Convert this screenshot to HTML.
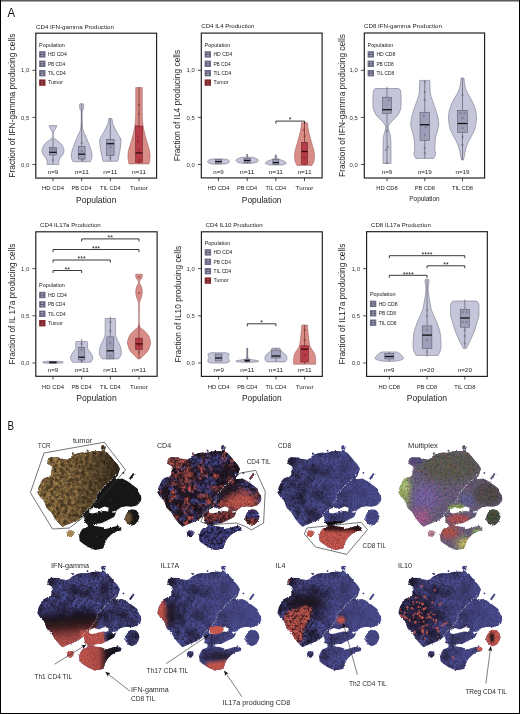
<!DOCTYPE html>
<html><head><meta charset="utf-8"><style>
html,body{margin:0;padding:0;background:#fff;}
body{width:520px;height:714px;overflow:hidden;}
svg{display:block;will-change:transform;}
text{font-family:"Liberation Sans", sans-serif;}
</style></head><body>
<svg width="520" height="714" viewBox="0 0 520 714" font-family='"Liberation Sans", sans-serif'>
<defs>
<path id="ts" d="M47.7,463.0 L47.5,460.5 L50.4,457.3 L59.6,457.6 L60.2,459.0 L61.9,458.8 L64.8,459.2 L67.1,459.8 L69.4,458.6 L72.0,456.0 L77.7,453.3 L82.0,452.5 L87.0,452.7 L90.0,452.1 L94.6,451.0 L98.0,451.0 L101.5,451.5 L102.6,449.0 L104.0,449.0 L104.8,451.6 L107.3,452.7 L110.2,456.1 L114.2,460.8 L117.7,464.8 L120.0,468.8 L118.8,472.3 L117.7,475.8 L115.4,478.0 L116.5,479.2 L122.3,478.6 L128.0,481.5 L132.7,485.0 L137.3,488.4 L139.6,494.2 L141.0,495.4 L141.3,499.6 L140.3,502.1 L136.9,505.5 L131.5,506.8 L126.1,506.2 L120.8,507.5 L116.7,510.2 L115.4,514.2 L114.0,516.9 L110.0,518.9 L106.0,521.0 L101.9,523.0 L97.9,524.3 L94.0,525.0 L101.9,527.0 L106.0,529.0 L112.7,527.0 L118.0,525.7 L121.4,527.7 L120.8,530.4 L115.4,531.7 L111.3,534.4 L107.3,538.5 L104.6,543.8 L103.3,548.5 L95.2,549.9 L88.5,547.2 L83.1,543.8 L79.7,541.1 L79.0,535.8 L80.4,532.0 L82.5,528.8 L85.5,527.8 L88.0,526.2 L87.2,524.2 L85.0,522.5 L84.6,519.5 L84.0,516.0 L81.2,517.5 L78.8,519.8 L71.9,522.7 L66.2,525.0 L62.7,526.7 L59.2,523.8 L54.6,518.1 L51.2,512.3 L46.5,507.7 L44.2,500.8 L40.4,497.3 L37.5,492.7 L38.7,486.9 L41.7,481.0 L42.9,479.2 L45.8,477.5 L48.7,477.2 L51.0,475.2 L51.5,472.9 L51.3,470.9 L52.7,468.8 L52.1,466.5 L49.2,464.5 L46.9,463.7 Z M125.5,516.0 L128.0,511.0 L131.5,509.3 L136.0,510.0 L138.5,513.0 L139.5,517.0 L138.0,521.0 L135.0,524.5 L131.5,525.7 L127.5,523.5 L125.3,520.3 Z M66.7,531.5 L69.0,530.5 L73.3,531.0 L73.5,534.5 L71.0,537.2 L67.5,536.5 Z M101.0,447.5 a2.3,2.3 0 1,0 4.6,0 a2.3,2.3 0 1,0 -4.6,0 Z M86.6,450.6 a0.9,0.9 0 1,0 1.8,0 a0.9,0.9 0 1,0 -1.8,0 Z M72.0,453.6 a1.0,1.0 0 1,0 2.0,0 a1.0,1.0 0 1,0 -2.0,0 Z M122.5,472.9 a0.9,0.9 0 1,0 1.8,0 a0.9,0.9 0 1,0 -1.8,0 Z M129.0,478.6 L133.0,472.9 L134.6,474.1 L130.6,479.8 Z"/>
<clipPath id="tsclip"><use href="#ts"/></clipPath>
<filter id="blur2" x="-20%" y="-20%" width="140%" height="140%"><feGaussianBlur stdDeviation="2.5"/></filter>
<filter id="blur4" x="-30%" y="-30%" width="160%" height="160%"><feGaussianBlur stdDeviation="4"/></filter>
</defs>
<rect width="520" height="714" fill="#fff"/>
<rect x="0" y="0" width="520" height="1" fill="#5a5a5a"/>
<rect x="0" y="1" width="520" height="1" fill="#a8a8a8"/>
<rect x="0" y="0" width="1" height="714" fill="#000"/>
<rect x="519" y="0" width="1" height="714" fill="#000"/>
<rect x="0" y="713" width="520" height="1" fill="#000"/>
<text x="7.40" y="16.80" font-size="12.4" fill="#111" textLength="7.6" lengthAdjust="spacingAndGlyphs">A</text>
<text x="7.60" y="429.70" font-size="12.0" fill="#111" textLength="6.6" lengthAdjust="spacingAndGlyphs">B</text>
<path d="M56.80,125.60 C56.67,126.00 56.43,127.10 56.00,128.00 C55.57,128.90 54.63,130.17 54.20,131.00 C53.77,131.83 53.53,132.08 53.40,133.00 C53.27,133.92 53.22,135.58 53.40,136.50 C53.58,137.42 53.65,137.67 54.50,138.50 C55.35,139.33 57.25,140.42 58.50,141.50 C59.75,142.58 61.08,143.52 62.00,145.00 C62.92,146.48 63.92,148.73 64.00,150.40 C64.08,152.07 63.20,153.65 62.50,155.00 C61.80,156.35 60.40,157.42 59.80,158.50 C59.20,159.58 59.05,160.50 58.90,161.50 C58.75,162.50 58.90,164.00 58.90,164.50 L47.10,164.50 C47.10,164.00 47.25,162.50 47.10,161.50 C46.95,160.50 46.80,159.58 46.20,158.50 C45.60,157.42 44.20,156.35 43.50,155.00 C42.80,153.65 41.92,152.07 42.00,150.40 C42.08,148.73 43.08,146.48 44.00,145.00 C44.92,143.52 46.25,142.58 47.50,141.50 C48.75,140.42 50.65,139.33 51.50,138.50 C52.35,137.67 52.42,137.42 52.60,136.50 C52.78,135.58 52.73,133.92 52.60,133.00 C52.47,132.08 52.23,131.83 51.80,131.00 C51.37,130.17 50.43,128.90 50.00,128.00 C49.57,127.10 49.33,126.00 49.20,125.60 Z" fill="#c6c6da" stroke="#6c6c80" stroke-width="0.55"/>
<line x1="53.00" y1="138.00" x2="53.00" y2="164.00" stroke="#4c4c5c" stroke-width="0.6"/>
<rect x="49.30" y="147.50" width="7.40" height="7.50" fill="#9e9eb8" stroke="#4c4c5c" stroke-width="0.5"/>
<line x1="49.30" y1="152.30" x2="56.70" y2="152.30" stroke="#111" stroke-width="1.3"/>
<circle cx="52.00" cy="149.00" r="0.9" fill="none" stroke="#4c4c5c" stroke-width="0.35"/>
<circle cx="54.50" cy="149.50" r="0.9" fill="none" stroke="#4c4c5c" stroke-width="0.35"/>
<circle cx="53.00" cy="160.00" r="0.9" fill="none" stroke="#4c4c5c" stroke-width="0.35"/>
<path d="M83.27,103.70 C83.35,103.92 83.74,104.12 83.77,105.00 C83.80,105.88 83.72,108.00 83.47,109.00 C83.22,110.00 82.49,109.17 82.27,111.00 C82.05,112.83 82.02,116.90 82.12,120.00 C82.22,123.10 82.28,126.93 82.87,129.60 C83.46,132.27 84.74,133.77 85.67,136.00 C86.60,138.23 87.57,140.67 88.47,143.00 C89.37,145.33 90.47,148.00 91.07,150.00 C91.67,152.00 91.97,153.58 92.07,155.00 C92.17,156.42 91.97,157.38 91.67,158.50 C91.37,159.62 90.50,161.17 90.27,161.70 L73.07,161.70 C72.84,161.17 71.97,159.62 71.67,158.50 C71.37,157.38 71.17,156.42 71.27,155.00 C71.37,153.58 71.67,152.00 72.27,150.00 C72.87,148.00 73.97,145.33 74.87,143.00 C75.77,140.67 76.74,138.23 77.67,136.00 C78.60,133.77 79.88,132.27 80.47,129.60 C81.06,126.93 81.12,123.10 81.22,120.00 C81.32,116.90 81.30,112.83 81.07,111.00 C80.85,109.17 80.12,110.00 79.87,109.00 C79.62,108.00 79.54,105.88 79.57,105.00 C79.60,104.12 79.99,103.92 80.07,103.70 Z" fill="#c6c6da" stroke="#6c6c80" stroke-width="0.55"/>
<line x1="81.67" y1="104.00" x2="81.67" y2="161.00" stroke="#4c4c5c" stroke-width="0.6"/>
<rect x="78.22" y="146.30" width="6.90" height="12.70" fill="#9e9eb8" stroke="#4c4c5c" stroke-width="0.5"/>
<line x1="78.22" y1="154.20" x2="85.12" y2="154.20" stroke="#111" stroke-width="1.3"/>
<circle cx="81.67" cy="143.00" r="0.9" fill="none" stroke="#4c4c5c" stroke-width="0.35"/>
<circle cx="81.67" cy="151.00" r="0.9" fill="none" stroke="#4c4c5c" stroke-width="0.35"/>
<circle cx="82.67" cy="160.00" r="0.9" fill="none" stroke="#4c4c5c" stroke-width="0.35"/>
<path d="M111.84,118.50 C111.92,118.83 112.22,119.75 112.34,120.50 C112.46,121.25 112.21,121.92 112.54,123.00 C112.87,124.08 113.54,125.33 114.34,127.00 C115.14,128.67 116.26,130.95 117.34,133.00 C118.42,135.05 120.27,137.30 120.84,139.30 C121.41,141.30 120.89,143.12 120.74,145.00 C120.59,146.88 120.26,148.77 119.94,150.60 C119.62,152.43 119.19,154.32 118.84,156.00 C118.49,157.68 118.09,159.82 117.84,160.70 C117.59,161.58 117.42,161.20 117.34,161.30 L103.34,161.30 C103.26,161.20 103.09,161.58 102.84,160.70 C102.59,159.82 102.19,157.68 101.84,156.00 C101.49,154.32 101.06,152.43 100.74,150.60 C100.42,148.77 100.09,146.88 99.94,145.00 C99.79,143.12 99.27,141.30 99.84,139.30 C100.41,137.30 102.26,135.05 103.34,133.00 C104.42,130.95 105.54,128.67 106.34,127.00 C107.14,125.33 107.81,124.08 108.14,123.00 C108.47,121.92 108.22,121.25 108.34,120.50 C108.46,119.75 108.76,118.83 108.84,118.50 Z" fill="#c6c6da" stroke="#6c6c80" stroke-width="0.55"/>
<line x1="110.34" y1="118.50" x2="110.34" y2="161.00" stroke="#4c4c5c" stroke-width="0.6"/>
<rect x="106.59" y="139.30" width="7.50" height="16.40" fill="#9e9eb8" stroke="#4c4c5c" stroke-width="0.5"/>
<line x1="106.59" y1="143.70" x2="114.09" y2="143.70" stroke="#111" stroke-width="1.3"/>
<circle cx="110.34" cy="147.00" r="0.9" fill="none" stroke="#4c4c5c" stroke-width="0.35"/>
<circle cx="110.34" cy="158.00" r="0.9" fill="none" stroke="#4c4c5c" stroke-width="0.35"/>
<path d="M142.31,87.60 C142.31,88.83 142.31,91.27 142.31,95.00 C142.31,98.73 142.26,105.57 142.31,110.00 C142.36,114.43 142.33,118.20 142.61,121.60 C142.89,125.00 143.36,127.25 144.01,130.40 C144.66,133.55 145.59,137.13 146.51,140.50 C147.43,143.87 148.93,147.65 149.51,150.60 C150.09,153.55 150.09,155.98 150.01,158.20 C149.93,160.42 149.18,162.95 149.01,163.90 L129.01,163.90 C128.84,162.95 128.09,160.42 128.01,158.20 C127.93,155.98 127.93,153.55 128.51,150.60 C129.09,147.65 130.59,143.87 131.51,140.50 C132.43,137.13 133.36,133.55 134.01,130.40 C134.66,127.25 135.13,125.00 135.41,121.60 C135.69,118.20 135.66,114.43 135.71,110.00 C135.76,105.57 135.71,98.73 135.71,95.00 C135.71,91.27 135.71,88.83 135.71,87.60 Z" fill="#d98d87" stroke="#9a5a5a" stroke-width="0.55"/>
<line x1="139.01" y1="87.00" x2="139.01" y2="163.50" stroke="#5a1a20" stroke-width="0.6"/>
<rect x="135.56" y="126.00" width="6.90" height="36.60" fill="#b83c48" stroke="#5a1a20" stroke-width="0.5"/>
<line x1="135.56" y1="152.90" x2="142.46" y2="152.90" stroke="#3a0a10" stroke-width="1.3"/>
<circle cx="139.01" cy="105.00" r="0.9" fill="none" stroke="#5a1a20" stroke-width="0.35"/>
<circle cx="139.01" cy="114.00" r="0.9" fill="none" stroke="#5a1a20" stroke-width="0.35"/>
<circle cx="138.01" cy="137.00" r="0.9" fill="none" stroke="#5a1a20" stroke-width="0.35"/>
<circle cx="138.01" cy="141.50" r="0.9" fill="none" stroke="#5a1a20" stroke-width="0.35"/>
<circle cx="139.01" cy="150.00" r="0.9" fill="none" stroke="#5a1a20" stroke-width="0.35"/>
<circle cx="139.01" cy="160.00" r="0.9" fill="none" stroke="#5a1a20" stroke-width="0.35"/>
<rect x="35.80" y="33.20" width="120.80" height="144.90" fill="none" stroke="#1a1a1a" stroke-width="1.15"/>
<text x="36.00" y="28.70" font-size="6.1" fill="#222" textLength="77.9" lengthAdjust="spacingAndGlyphs">CD4 IFN-gamma Production</text>
<text transform="translate(15.00,105.65) rotate(-90)" x="0" y="0" font-size="9" fill="#222" text-anchor="middle" textLength="144" lengthAdjust="spacingAndGlyphs">Fraction of IFN-gamma producing cells</text>
<line x1="32.40" y1="70.30" x2="35.80" y2="70.30" stroke="#222" stroke-width="0.8"/>
<text x="29.20" y="72.40" font-size="5.9" fill="#333" text-anchor="end" textLength="8.2" lengthAdjust="spacingAndGlyphs">1,0</text>
<line x1="32.40" y1="117.40" x2="35.80" y2="117.40" stroke="#222" stroke-width="0.8"/>
<text x="29.20" y="119.50" font-size="5.9" fill="#333" text-anchor="end" textLength="8.2" lengthAdjust="spacingAndGlyphs">0,5</text>
<line x1="32.40" y1="164.50" x2="35.80" y2="164.50" stroke="#222" stroke-width="0.8"/>
<text x="29.20" y="166.60" font-size="5.9" fill="#333" text-anchor="end" textLength="8.2" lengthAdjust="spacingAndGlyphs">0,0</text>
<line x1="53.00" y1="178.10" x2="53.00" y2="181.30" stroke="#222" stroke-width="0.8"/>
<text x="53.00" y="190.30" font-size="6.2" fill="#222" text-anchor="middle" textLength="21.9" lengthAdjust="spacingAndGlyphs">HD CD4</text>
<line x1="81.67" y1="178.10" x2="81.67" y2="181.30" stroke="#222" stroke-width="0.8"/>
<text x="81.67" y="190.30" font-size="6.2" fill="#222" text-anchor="middle" textLength="20.1" lengthAdjust="spacingAndGlyphs">PB CD4</text>
<line x1="110.34" y1="178.10" x2="110.34" y2="181.30" stroke="#222" stroke-width="0.8"/>
<text x="110.34" y="190.30" font-size="6.2" fill="#222" text-anchor="middle" textLength="20.7" lengthAdjust="spacingAndGlyphs">TIL CD4</text>
<line x1="139.01" y1="178.10" x2="139.01" y2="181.30" stroke="#222" stroke-width="0.8"/>
<text x="139.01" y="190.30" font-size="6.2" fill="#222" text-anchor="middle" textLength="17.8" lengthAdjust="spacingAndGlyphs">Tumor</text>
<text x="53.00" y="173.70" font-size="6.2" fill="#222" text-anchor="middle" textLength="10.4" lengthAdjust="spacingAndGlyphs">n=9</text>
<text x="81.67" y="173.70" font-size="6.2" fill="#222" text-anchor="middle" textLength="14.2" lengthAdjust="spacingAndGlyphs">n=11</text>
<text x="110.34" y="173.70" font-size="6.2" fill="#222" text-anchor="middle" textLength="14.2" lengthAdjust="spacingAndGlyphs">n=11</text>
<text x="139.01" y="173.70" font-size="6.2" fill="#222" text-anchor="middle" textLength="14.2" lengthAdjust="spacingAndGlyphs">n=11</text>
<text x="96.20" y="202.90" font-size="9.4" fill="#222" text-anchor="middle" textLength="40.4" lengthAdjust="spacingAndGlyphs">Population</text>
<text x="39.10" y="46.80" font-size="5.2" fill="#1a1a1a" textLength="25.7" lengthAdjust="spacingAndGlyphs">Population</text>
<rect x="39.10" y="51.20" width="6.4" height="6.4" fill="#6e6e8e"/>
<rect x="40.70" y="52.40" width="3.2" height="4" fill="#a4a4bc" stroke="#4c4c5c" stroke-width="0.4"/>
<line x1="40.70" y1="54.40" x2="43.90" y2="54.40" stroke="#222" stroke-width="0.6"/>
<text x="47.90" y="56.20" font-size="5.0" fill="#1a1a1a" textLength="18.9" lengthAdjust="spacingAndGlyphs">HD CD4</text>
<rect x="39.10" y="60.60" width="6.4" height="6.4" fill="#6e6e8e"/>
<rect x="40.70" y="61.80" width="3.2" height="4" fill="#a4a4bc" stroke="#4c4c5c" stroke-width="0.4"/>
<line x1="40.70" y1="63.80" x2="43.90" y2="63.80" stroke="#222" stroke-width="0.6"/>
<text x="47.90" y="65.60" font-size="5.0" fill="#1a1a1a" textLength="17.3" lengthAdjust="spacingAndGlyphs">PB CD4</text>
<rect x="39.10" y="70.00" width="6.4" height="6.4" fill="#6e6e8e"/>
<rect x="40.70" y="71.20" width="3.2" height="4" fill="#a4a4bc" stroke="#4c4c5c" stroke-width="0.4"/>
<line x1="40.70" y1="73.20" x2="43.90" y2="73.20" stroke="#222" stroke-width="0.6"/>
<text x="47.90" y="75.00" font-size="5.0" fill="#1a1a1a" textLength="17.8" lengthAdjust="spacingAndGlyphs">TIL CD4</text>
<rect x="39.10" y="79.40" width="6.4" height="6.4" fill="#8a2a32"/>
<rect x="40.70" y="80.60" width="3.2" height="4" fill="#b04850" stroke="#5a1a20" stroke-width="0.4"/>
<line x1="40.70" y1="82.60" x2="43.90" y2="82.60" stroke="#222" stroke-width="0.6"/>
<text x="47.90" y="84.40" font-size="5.0" fill="#1a1a1a" textLength="15.0" lengthAdjust="spacingAndGlyphs">Tumor</text>
<path d="M222.50,158.90 C223.33,159.02 226.33,159.17 227.50,159.60 C228.67,160.03 229.50,160.87 229.50,161.50 C229.50,162.13 228.67,162.95 227.50,163.40 C226.33,163.85 223.33,164.07 222.50,164.20 L214.50,164.20 C213.67,164.07 210.67,163.85 209.50,163.40 C208.33,162.95 207.50,162.13 207.50,161.50 C207.50,160.87 208.33,160.03 209.50,159.60 C210.67,159.17 213.67,159.02 214.50,158.90 Z" fill="#c6c6da" stroke="#6c6c80" stroke-width="0.55"/>
<rect x="215.30" y="159.60" width="6.40" height="3.60" fill="#9e9eb8" stroke="#4c4c5c" stroke-width="0.5"/>
<line x1="215.30" y1="161.60" x2="221.70" y2="161.60" stroke="#111" stroke-width="1.3"/>
<path d="M247.67,154.30 C247.72,154.75 247.05,156.47 247.97,157.00 C248.89,157.53 251.52,157.08 253.17,157.50 C254.82,157.92 257.20,158.75 257.87,159.50 C258.54,160.25 258.29,161.33 257.17,162.00 C256.05,162.67 252.17,163.25 251.17,163.50 L243.17,163.50 C242.17,163.25 238.29,162.67 237.17,162.00 C236.05,161.33 235.80,160.25 236.47,159.50 C237.14,158.75 239.52,157.92 241.17,157.50 C242.82,157.08 245.45,157.53 246.37,157.00 C247.29,156.47 246.62,154.75 246.67,154.30 Z" fill="#c6c6da" stroke="#6c6c80" stroke-width="0.55"/>
<line x1="247.17" y1="154.30" x2="247.17" y2="163.50" stroke="#4c4c5c" stroke-width="0.6"/>
<rect x="243.97" y="158.50" width="6.40" height="4.00" fill="#9e9eb8" stroke="#4c4c5c" stroke-width="0.5"/>
<line x1="243.97" y1="160.50" x2="250.37" y2="160.50" stroke="#111" stroke-width="1.3"/>
<path d="M276.44,155.00 C276.54,155.50 276.47,157.25 277.04,158.00 C277.61,158.75 278.54,158.92 279.84,159.50 C281.14,160.08 283.77,160.83 284.84,161.50 C285.91,162.17 286.74,162.92 286.24,163.50 C285.74,164.08 282.57,164.75 281.84,165.00 L269.84,165.00 C269.11,164.75 265.94,164.08 265.44,163.50 C264.94,162.92 265.77,162.17 266.84,161.50 C267.91,160.83 270.54,160.08 271.84,159.50 C273.14,158.92 274.07,158.75 274.64,158.00 C275.21,157.25 275.14,155.50 275.24,155.00 Z" fill="#c6c6da" stroke="#6c6c80" stroke-width="0.55"/>
<line x1="275.84" y1="155.00" x2="275.84" y2="165.00" stroke="#4c4c5c" stroke-width="0.6"/>
<rect x="272.84" y="159.50" width="6.00" height="4.70" fill="#9e9eb8" stroke="#4c4c5c" stroke-width="0.5"/>
<line x1="272.84" y1="162.60" x2="278.84" y2="162.60" stroke="#111" stroke-width="1.3"/>
<path d="M307.51,122.70 C307.59,123.58 307.68,125.95 308.01,128.00 C308.34,130.05 308.93,132.62 309.51,135.00 C310.09,137.38 310.81,139.80 311.51,142.30 C312.21,144.80 313.21,147.68 313.71,150.00 C314.21,152.32 314.46,154.37 314.51,156.20 C314.56,158.03 314.43,159.47 314.01,161.00 C313.59,162.53 312.34,164.67 312.01,165.40 L297.01,165.40 C296.68,164.67 295.43,162.53 295.01,161.00 C294.59,159.47 294.46,158.03 294.51,156.20 C294.56,154.37 294.81,152.32 295.31,150.00 C295.81,147.68 296.81,144.80 297.51,142.30 C298.21,139.80 298.93,137.38 299.51,135.00 C300.09,132.62 300.68,130.05 301.01,128.00 C301.34,125.95 301.43,123.58 301.51,122.70 Z" fill="#d98d87" stroke="#9a5a5a" stroke-width="0.55"/>
<line x1="304.51" y1="122.70" x2="304.51" y2="165.00" stroke="#5a1a20" stroke-width="0.6"/>
<rect x="301.41" y="142.30" width="6.20" height="21.90" fill="#b83c48" stroke="#5a1a20" stroke-width="0.5"/>
<line x1="301.41" y1="151.50" x2="307.61" y2="151.50" stroke="#3a0a10" stroke-width="1.3"/>
<circle cx="303.51" cy="130.00" r="0.9" fill="none" stroke="#5a1a20" stroke-width="0.35"/>
<circle cx="304.51" cy="136.00" r="0.9" fill="none" stroke="#5a1a20" stroke-width="0.35"/>
<circle cx="304.51" cy="158.00" r="0.9" fill="none" stroke="#5a1a20" stroke-width="0.35"/>
<path d="M275.84,123.60 L275.84,121.10 L304.51,121.10 L304.51,123.60" fill="none" stroke="#151515" stroke-width="0.85"/>
<text x="290.18" y="122.30" font-size="7" fill="#222" text-anchor="middle">*</text>
<rect x="201.30" y="33.10" width="120.80" height="144.80" fill="none" stroke="#1a1a1a" stroke-width="1.15"/>
<text x="201.30" y="28.20" font-size="6.1" fill="#222" textLength="53.0" lengthAdjust="spacingAndGlyphs">CD4 IL4 Production</text>
<text transform="translate(180.30,105.50) rotate(-90)" x="0" y="0" font-size="9" fill="#222" text-anchor="middle" textLength="111.3" lengthAdjust="spacingAndGlyphs">Fraction of IL4 producing cells</text>
<line x1="197.90" y1="70.30" x2="201.30" y2="70.30" stroke="#222" stroke-width="0.8"/>
<text x="194.70" y="72.40" font-size="5.9" fill="#333" text-anchor="end" textLength="8.2" lengthAdjust="spacingAndGlyphs">1,0</text>
<line x1="197.90" y1="117.40" x2="201.30" y2="117.40" stroke="#222" stroke-width="0.8"/>
<text x="194.70" y="119.50" font-size="5.9" fill="#333" text-anchor="end" textLength="8.2" lengthAdjust="spacingAndGlyphs">0,5</text>
<line x1="197.90" y1="164.50" x2="201.30" y2="164.50" stroke="#222" stroke-width="0.8"/>
<text x="194.70" y="166.60" font-size="5.9" fill="#333" text-anchor="end" textLength="8.2" lengthAdjust="spacingAndGlyphs">0,0</text>
<line x1="218.50" y1="177.90" x2="218.50" y2="181.10" stroke="#222" stroke-width="0.8"/>
<text x="218.50" y="190.10" font-size="6.2" fill="#222" text-anchor="middle" textLength="21.9" lengthAdjust="spacingAndGlyphs">HD CD4</text>
<line x1="247.17" y1="177.90" x2="247.17" y2="181.10" stroke="#222" stroke-width="0.8"/>
<text x="247.17" y="190.10" font-size="6.2" fill="#222" text-anchor="middle" textLength="20.1" lengthAdjust="spacingAndGlyphs">PB CD4</text>
<line x1="275.84" y1="177.90" x2="275.84" y2="181.10" stroke="#222" stroke-width="0.8"/>
<text x="275.84" y="190.10" font-size="6.2" fill="#222" text-anchor="middle" textLength="20.7" lengthAdjust="spacingAndGlyphs">TIL CD4</text>
<line x1="304.51" y1="177.90" x2="304.51" y2="181.10" stroke="#222" stroke-width="0.8"/>
<text x="304.51" y="190.10" font-size="6.2" fill="#222" text-anchor="middle" textLength="17.8" lengthAdjust="spacingAndGlyphs">Tumor</text>
<text x="218.50" y="173.50" font-size="6.2" fill="#222" text-anchor="middle" textLength="10.4" lengthAdjust="spacingAndGlyphs">n=9</text>
<text x="247.17" y="173.50" font-size="6.2" fill="#222" text-anchor="middle" textLength="14.2" lengthAdjust="spacingAndGlyphs">n=11</text>
<text x="275.84" y="173.50" font-size="6.2" fill="#222" text-anchor="middle" textLength="14.2" lengthAdjust="spacingAndGlyphs">n=11</text>
<text x="304.51" y="173.50" font-size="6.2" fill="#222" text-anchor="middle" textLength="14.2" lengthAdjust="spacingAndGlyphs">n=11</text>
<text x="261.70" y="202.70" font-size="9.4" fill="#222" text-anchor="middle" textLength="39.7" lengthAdjust="spacingAndGlyphs">Population</text>
<text x="204.60" y="46.80" font-size="5.2" fill="#1a1a1a" textLength="25.7" lengthAdjust="spacingAndGlyphs">Population</text>
<rect x="204.60" y="51.20" width="6.4" height="6.4" fill="#6e6e8e"/>
<rect x="206.20" y="52.40" width="3.2" height="4" fill="#a4a4bc" stroke="#4c4c5c" stroke-width="0.4"/>
<line x1="206.20" y1="54.40" x2="209.40" y2="54.40" stroke="#222" stroke-width="0.6"/>
<text x="213.40" y="56.20" font-size="5.0" fill="#1a1a1a" textLength="18.9" lengthAdjust="spacingAndGlyphs">HD CD4</text>
<rect x="204.60" y="60.60" width="6.4" height="6.4" fill="#6e6e8e"/>
<rect x="206.20" y="61.80" width="3.2" height="4" fill="#a4a4bc" stroke="#4c4c5c" stroke-width="0.4"/>
<line x1="206.20" y1="63.80" x2="209.40" y2="63.80" stroke="#222" stroke-width="0.6"/>
<text x="213.40" y="65.60" font-size="5.0" fill="#1a1a1a" textLength="17.3" lengthAdjust="spacingAndGlyphs">PB CD4</text>
<rect x="204.60" y="70.00" width="6.4" height="6.4" fill="#6e6e8e"/>
<rect x="206.20" y="71.20" width="3.2" height="4" fill="#a4a4bc" stroke="#4c4c5c" stroke-width="0.4"/>
<line x1="206.20" y1="73.20" x2="209.40" y2="73.20" stroke="#222" stroke-width="0.6"/>
<text x="213.40" y="75.00" font-size="5.0" fill="#1a1a1a" textLength="17.8" lengthAdjust="spacingAndGlyphs">TIL CD4</text>
<rect x="204.60" y="79.40" width="6.4" height="6.4" fill="#8a2a32"/>
<rect x="206.20" y="80.60" width="3.2" height="4" fill="#b04850" stroke="#5a1a20" stroke-width="0.4"/>
<line x1="206.20" y1="82.60" x2="209.40" y2="82.60" stroke="#222" stroke-width="0.6"/>
<text x="213.40" y="84.40" font-size="5.0" fill="#1a1a1a" textLength="15.0" lengthAdjust="spacingAndGlyphs">Tumor</text>
<path d="M398.50,88.50 C398.78,88.75 399.78,88.85 400.20,90.00 C400.62,91.15 400.87,92.58 401.00,95.40 C401.13,98.22 401.25,104.13 401.00,106.90 C400.75,109.67 400.17,110.45 399.50,112.00 C398.83,113.55 398.25,114.70 397.00,116.20 C395.75,117.70 393.33,119.53 392.00,121.00 C390.67,122.47 389.62,123.88 389.00,125.00 C388.38,126.12 388.30,126.70 388.30,127.70 C388.30,128.70 388.63,129.47 389.00,131.00 C389.37,132.53 390.17,133.98 390.50,136.90 C390.83,139.82 390.92,144.07 391.00,148.50 C391.08,152.93 391.00,161.00 391.00,163.50 L383.00,163.50 C383.00,161.00 382.92,152.93 383.00,148.50 C383.08,144.07 383.17,139.82 383.50,136.90 C383.83,133.98 384.63,132.53 385.00,131.00 C385.37,129.47 385.70,128.70 385.70,127.70 C385.70,126.70 385.62,126.12 385.00,125.00 C384.38,123.88 383.33,122.47 382.00,121.00 C380.67,119.53 378.25,117.70 377.00,116.20 C375.75,114.70 375.17,113.55 374.50,112.00 C373.83,110.45 373.25,109.67 373.00,106.90 C372.75,104.13 372.87,98.22 373.00,95.40 C373.13,92.58 373.38,91.15 373.80,90.00 C374.22,88.85 375.22,88.75 375.50,88.50 Z" fill="#c6c6da" stroke="#6c6c80" stroke-width="0.55"/>
<line x1="387.00" y1="86.60" x2="387.00" y2="163.50" stroke="#4c4c5c" stroke-width="0.6"/>
<rect x="382.40" y="97.20" width="9.20" height="16.20" fill="#9e9eb8" stroke="#4c4c5c" stroke-width="0.5"/>
<line x1="382.40" y1="109.70" x2="391.60" y2="109.70" stroke="#111" stroke-width="1.3"/>
<circle cx="389.00" cy="100.00" r="0.9" fill="none" stroke="#4c4c5c" stroke-width="0.35"/>
<circle cx="387.00" cy="131.00" r="0.9" fill="none" stroke="#4c4c5c" stroke-width="0.35"/>
<circle cx="388.00" cy="147.00" r="0.9" fill="none" stroke="#4c4c5c" stroke-width="0.35"/>
<circle cx="386.00" cy="150.00" r="0.9" fill="none" stroke="#4c4c5c" stroke-width="0.35"/>
<circle cx="387.00" cy="163.00" r="0.9" fill="none" stroke="#4c4c5c" stroke-width="0.35"/>
<path d="M429.75,80.40 C429.80,81.33 429.97,83.90 430.05,86.00 C430.13,88.10 429.88,90.67 430.25,93.00 C430.62,95.33 431.50,97.68 432.25,100.00 C433.00,102.32 433.92,104.40 434.75,106.90 C435.58,109.40 436.58,112.30 437.25,115.00 C437.92,117.70 438.67,120.60 438.75,123.10 C438.83,125.60 438.25,127.70 437.75,130.00 C437.25,132.30 436.25,133.82 435.75,136.90 C435.25,139.98 434.78,145.65 434.75,148.50 C434.72,151.35 435.72,152.35 435.55,154.00 C435.38,155.65 434.05,157.67 433.75,158.40 L415.75,158.40 C415.45,157.67 414.12,155.65 413.95,154.00 C413.78,152.35 414.78,151.35 414.75,148.50 C414.72,145.65 414.25,139.98 413.75,136.90 C413.25,133.82 412.25,132.30 411.75,130.00 C411.25,127.70 410.67,125.60 410.75,123.10 C410.83,120.60 411.58,117.70 412.25,115.00 C412.92,112.30 413.92,109.40 414.75,106.90 C415.58,104.40 416.50,102.32 417.25,100.00 C418.00,97.68 418.88,95.33 419.25,93.00 C419.62,90.67 419.37,88.10 419.45,86.00 C419.53,83.90 419.70,81.33 419.75,80.40 Z" fill="#c6c6da" stroke="#6c6c80" stroke-width="0.55"/>
<line x1="424.75" y1="80.40" x2="424.75" y2="158.40" stroke="#4c4c5c" stroke-width="0.6"/>
<rect x="420.00" y="112.20" width="9.50" height="28.20" fill="#9e9eb8" stroke="#4c4c5c" stroke-width="0.5"/>
<line x1="420.00" y1="124.70" x2="429.50" y2="124.70" stroke="#111" stroke-width="1.3"/>
<circle cx="424.75" cy="82.00" r="0.9" fill="none" stroke="#4c4c5c" stroke-width="0.35"/>
<circle cx="424.75" cy="92.00" r="0.9" fill="none" stroke="#4c4c5c" stroke-width="0.35"/>
<circle cx="424.75" cy="100.00" r="0.9" fill="none" stroke="#4c4c5c" stroke-width="0.35"/>
<circle cx="423.75" cy="116.00" r="0.9" fill="none" stroke="#4c4c5c" stroke-width="0.35"/>
<circle cx="425.75" cy="127.00" r="0.9" fill="none" stroke="#4c4c5c" stroke-width="0.35"/>
<circle cx="424.75" cy="135.00" r="0.9" fill="none" stroke="#4c4c5c" stroke-width="0.35"/>
<circle cx="424.75" cy="148.00" r="0.9" fill="none" stroke="#4c4c5c" stroke-width="0.35"/>
<circle cx="424.75" cy="153.00" r="0.9" fill="none" stroke="#4c4c5c" stroke-width="0.35"/>
<path d="M464.00,78.10 C464.08,78.92 464.25,81.27 464.50,83.00 C464.75,84.73 464.92,86.67 465.50,88.50 C466.08,90.33 467.00,92.08 468.00,94.00 C469.00,95.92 470.33,97.67 471.50,100.00 C472.67,102.33 474.17,105.30 475.00,108.00 C475.83,110.70 476.33,113.70 476.50,116.20 C476.67,118.70 476.33,120.70 476.00,123.00 C475.67,125.30 475.33,127.67 474.50,130.00 C473.67,132.33 472.17,134.68 471.00,137.00 C469.83,139.32 468.42,141.73 467.50,143.90 C466.58,146.07 466.00,148.08 465.50,150.00 C465.00,151.92 464.83,153.73 464.50,155.40 C464.17,157.07 463.67,159.23 463.50,160.00 L461.50,160.00 C461.33,159.23 460.83,157.07 460.50,155.40 C460.17,153.73 460.00,151.92 459.50,150.00 C459.00,148.08 458.42,146.07 457.50,143.90 C456.58,141.73 455.17,139.32 454.00,137.00 C452.83,134.68 451.33,132.33 450.50,130.00 C449.67,127.67 449.33,125.30 449.00,123.00 C448.67,120.70 448.33,118.70 448.50,116.20 C448.67,113.70 449.17,110.70 450.00,108.00 C450.83,105.30 452.33,102.33 453.50,100.00 C454.67,97.67 456.00,95.92 457.00,94.00 C458.00,92.08 458.92,90.33 459.50,88.50 C460.08,86.67 460.25,84.73 460.50,83.00 C460.75,81.27 460.92,78.92 461.00,78.10 Z" fill="#c6c6da" stroke="#6c6c80" stroke-width="0.55"/>
<line x1="462.50" y1="78.10" x2="462.50" y2="160.00" stroke="#4c4c5c" stroke-width="0.6"/>
<rect x="457.55" y="110.40" width="9.90" height="21.90" fill="#9e9eb8" stroke="#4c4c5c" stroke-width="0.5"/>
<line x1="457.55" y1="123.50" x2="467.45" y2="123.50" stroke="#111" stroke-width="1.3"/>
<circle cx="462.50" cy="95.00" r="0.9" fill="none" stroke="#4c4c5c" stroke-width="0.35"/>
<circle cx="460.50" cy="113.00" r="0.9" fill="none" stroke="#4c4c5c" stroke-width="0.35"/>
<circle cx="464.50" cy="113.00" r="0.9" fill="none" stroke="#4c4c5c" stroke-width="0.35"/>
<circle cx="462.50" cy="118.00" r="0.9" fill="none" stroke="#4c4c5c" stroke-width="0.35"/>
<circle cx="462.50" cy="128.00" r="0.9" fill="none" stroke="#4c4c5c" stroke-width="0.35"/>
<circle cx="462.50" cy="137.00" r="0.9" fill="none" stroke="#4c4c5c" stroke-width="0.35"/>
<circle cx="462.50" cy="145.00" r="0.9" fill="none" stroke="#4c4c5c" stroke-width="0.35"/>
<rect x="364.30" y="33.00" width="120.30" height="145.00" fill="none" stroke="#1a1a1a" stroke-width="1.15"/>
<text x="364.00" y="28.40" font-size="6.1" fill="#222" textLength="77.9" lengthAdjust="spacingAndGlyphs">CD8 IFN-gamma Production</text>
<text transform="translate(344.70,105.50) rotate(-90)" x="0" y="0" font-size="9" fill="#222" text-anchor="middle" textLength="142.8" lengthAdjust="spacingAndGlyphs">Fraction of IFN-gamma producing cells</text>
<line x1="360.90" y1="70.30" x2="364.30" y2="70.30" stroke="#222" stroke-width="0.8"/>
<text x="357.70" y="72.40" font-size="5.9" fill="#333" text-anchor="end" textLength="8.2" lengthAdjust="spacingAndGlyphs">1,0</text>
<line x1="360.90" y1="117.40" x2="364.30" y2="117.40" stroke="#222" stroke-width="0.8"/>
<text x="357.70" y="119.50" font-size="5.9" fill="#333" text-anchor="end" textLength="8.2" lengthAdjust="spacingAndGlyphs">0,5</text>
<line x1="360.90" y1="164.50" x2="364.30" y2="164.50" stroke="#222" stroke-width="0.8"/>
<text x="357.70" y="166.60" font-size="5.9" fill="#333" text-anchor="end" textLength="8.2" lengthAdjust="spacingAndGlyphs">0,0</text>
<line x1="387.00" y1="178.00" x2="387.00" y2="181.20" stroke="#222" stroke-width="0.8"/>
<text x="387.00" y="190.20" font-size="6.2" fill="#222" text-anchor="middle" textLength="21.6" lengthAdjust="spacingAndGlyphs">HD CD8</text>
<line x1="424.75" y1="178.00" x2="424.75" y2="181.20" stroke="#222" stroke-width="0.8"/>
<text x="424.75" y="190.20" font-size="6.2" fill="#222" text-anchor="middle" textLength="20.1" lengthAdjust="spacingAndGlyphs">PB CD8</text>
<line x1="462.50" y1="178.00" x2="462.50" y2="181.20" stroke="#222" stroke-width="0.8"/>
<text x="462.50" y="190.20" font-size="6.2" fill="#222" text-anchor="middle" textLength="21.1" lengthAdjust="spacingAndGlyphs">TIL CD8</text>
<text x="387.00" y="173.60" font-size="6.2" fill="#222" text-anchor="middle" textLength="10.4" lengthAdjust="spacingAndGlyphs">n=9</text>
<text x="424.75" y="173.60" font-size="6.2" fill="#222" text-anchor="middle" textLength="14.2" lengthAdjust="spacingAndGlyphs">n=19</text>
<text x="462.50" y="173.60" font-size="6.2" fill="#222" text-anchor="middle" textLength="14.2" lengthAdjust="spacingAndGlyphs">n=19</text>
<text x="424.45" y="200.80" font-size="6.8" fill="#222" text-anchor="middle" textLength="30.3" lengthAdjust="spacingAndGlyphs">Population</text>
<text x="367.60" y="46.80" font-size="5.2" fill="#1a1a1a" textLength="25.7" lengthAdjust="spacingAndGlyphs">Population</text>
<rect x="367.60" y="51.20" width="6.4" height="6.4" fill="#6e6e8e"/>
<rect x="369.20" y="52.40" width="3.2" height="4" fill="#a4a4bc" stroke="#4c4c5c" stroke-width="0.4"/>
<line x1="369.20" y1="54.40" x2="372.40" y2="54.40" stroke="#222" stroke-width="0.6"/>
<text x="376.40" y="56.20" font-size="5.0" fill="#1a1a1a" textLength="18.9" lengthAdjust="spacingAndGlyphs">HD CD8</text>
<rect x="367.60" y="60.60" width="6.4" height="6.4" fill="#6e6e8e"/>
<rect x="369.20" y="61.80" width="3.2" height="4" fill="#a4a4bc" stroke="#4c4c5c" stroke-width="0.4"/>
<line x1="369.20" y1="63.80" x2="372.40" y2="63.80" stroke="#222" stroke-width="0.6"/>
<text x="376.40" y="65.60" font-size="5.0" fill="#1a1a1a" textLength="17.3" lengthAdjust="spacingAndGlyphs">PB CD8</text>
<rect x="367.60" y="70.00" width="6.4" height="6.4" fill="#6e6e8e"/>
<rect x="369.20" y="71.20" width="3.2" height="4" fill="#a4a4bc" stroke="#4c4c5c" stroke-width="0.4"/>
<line x1="369.20" y1="73.20" x2="372.40" y2="73.20" stroke="#222" stroke-width="0.6"/>
<text x="376.40" y="75.00" font-size="5.0" fill="#1a1a1a" textLength="17.8" lengthAdjust="spacingAndGlyphs">TIL CD8</text>
<path d="M57.00,361.30 C57.83,361.35 60.93,361.43 62.00,361.60 C63.07,361.77 63.40,362.07 63.40,362.30 C63.40,362.53 63.07,362.83 62.00,363.00 C60.93,363.17 57.83,363.25 57.00,363.30 L49.00,363.30 C48.17,363.25 45.07,363.17 44.00,363.00 C42.93,362.83 42.60,362.53 42.60,362.30 C42.60,362.07 42.93,361.77 44.00,361.60 C45.07,361.43 48.17,361.35 49.00,361.30 Z" fill="#c6c6da" stroke="#6c6c80" stroke-width="0.55"/>
<rect x="49.50" y="361.40" width="7.00" height="1.80" fill="#9e9eb8" stroke="#4c4c5c" stroke-width="0.5"/>
<line x1="49.50" y1="362.30" x2="56.50" y2="362.30" stroke="#111" stroke-width="1.3"/>
<path d="M87.17,341.50 C87.25,341.75 87.59,341.83 87.67,343.00 C87.75,344.17 87.25,347.00 87.67,348.50 C88.09,350.00 89.34,350.67 90.17,352.00 C91.00,353.33 92.29,355.25 92.67,356.50 C93.05,357.75 92.80,358.53 92.47,359.50 C92.14,360.47 90.97,361.83 90.67,362.30 L72.67,362.30 C72.37,361.83 71.20,360.47 70.87,359.50 C70.54,358.53 70.29,357.75 70.67,356.50 C71.05,355.25 72.34,353.33 73.17,352.00 C74.00,350.67 75.25,350.00 75.67,348.50 C76.09,347.00 75.59,344.17 75.67,343.00 C75.75,341.83 76.09,341.75 76.17,341.50 Z" fill="#c6c6da" stroke="#6c6c80" stroke-width="0.55"/>
<line x1="81.67" y1="339.00" x2="81.67" y2="362.30" stroke="#4c4c5c" stroke-width="0.6"/>
<rect x="78.52" y="347.30" width="6.30" height="12.70" fill="#9e9eb8" stroke="#4c4c5c" stroke-width="0.5"/>
<line x1="78.52" y1="357.20" x2="84.82" y2="357.20" stroke="#111" stroke-width="1.3"/>
<circle cx="81.67" cy="344.00" r="0.9" fill="none" stroke="#4c4c5c" stroke-width="0.35"/>
<circle cx="81.67" cy="350.00" r="0.9" fill="none" stroke="#4c4c5c" stroke-width="0.35"/>
<circle cx="81.67" cy="361.00" r="0.9" fill="none" stroke="#4c4c5c" stroke-width="0.35"/>
<path d="M115.54,318.50 C115.54,319.58 115.52,322.32 115.54,325.00 C115.56,327.68 115.34,332.10 115.64,334.60 C115.94,337.10 116.56,338.07 117.34,340.00 C118.12,341.93 119.67,344.02 120.34,346.20 C121.01,348.38 121.34,351.38 121.34,353.10 C121.34,354.82 120.84,355.53 120.34,356.50 C119.84,357.47 118.67,358.50 118.34,358.90 L102.34,358.90 C102.01,358.50 100.84,357.47 100.34,356.50 C99.84,355.53 99.34,354.82 99.34,353.10 C99.34,351.38 99.67,348.38 100.34,346.20 C101.01,344.02 102.56,341.93 103.34,340.00 C104.12,338.07 104.74,337.10 105.04,334.60 C105.34,332.10 105.12,327.68 105.14,325.00 C105.16,322.32 105.14,319.58 105.14,318.50 Z" fill="#c6c6da" stroke="#6c6c80" stroke-width="0.55"/>
<line x1="110.34" y1="316.50" x2="110.34" y2="358.90" stroke="#4c4c5c" stroke-width="0.6"/>
<rect x="106.84" y="336.90" width="7.00" height="22.00" fill="#9e9eb8" stroke="#4c4c5c" stroke-width="0.5"/>
<line x1="106.84" y1="350.80" x2="113.84" y2="350.80" stroke="#111" stroke-width="1.3"/>
<circle cx="110.34" cy="322.00" r="0.9" fill="none" stroke="#4c4c5c" stroke-width="0.35"/>
<circle cx="110.34" cy="331.00" r="0.9" fill="none" stroke="#4c4c5c" stroke-width="0.35"/>
<circle cx="110.34" cy="343.00" r="0.9" fill="none" stroke="#4c4c5c" stroke-width="0.35"/>
<circle cx="110.34" cy="356.00" r="0.9" fill="none" stroke="#4c4c5c" stroke-width="0.35"/>
<path d="M142.21,274.20 C142.23,274.58 142.48,275.70 142.31,276.50 C142.14,277.30 141.66,278.25 141.21,279.00 C140.76,279.75 139.84,280.25 139.61,281.00 C139.38,281.75 139.49,282.50 139.81,283.50 C140.13,284.50 141.09,285.58 141.51,287.00 C141.93,288.42 142.31,290.33 142.31,292.00 C142.31,293.67 141.96,295.28 141.51,297.00 C141.06,298.72 139.97,300.13 139.61,302.30 C139.25,304.47 139.38,306.15 139.36,310.00 C139.34,313.85 138.82,322.07 139.51,325.40 C140.20,328.73 142.13,328.47 143.51,330.00 C144.89,331.53 146.64,332.68 147.81,334.60 C148.98,336.52 150.18,339.60 150.51,341.50 C150.84,343.40 150.23,344.45 149.81,346.00 C149.39,347.55 148.98,349.30 148.01,350.80 C147.04,352.30 145.31,353.65 144.01,355.00 C142.71,356.35 140.84,358.25 140.21,358.90 L137.81,358.90 C137.18,358.25 135.31,356.35 134.01,355.00 C132.71,353.65 130.98,352.30 130.01,350.80 C129.04,349.30 128.63,347.55 128.21,346.00 C127.79,344.45 127.18,343.40 127.51,341.50 C127.84,339.60 129.04,336.52 130.21,334.60 C131.38,332.68 133.13,331.53 134.51,330.00 C135.89,328.47 137.82,328.73 138.51,325.40 C139.20,322.07 138.68,313.85 138.66,310.00 C138.64,306.15 138.77,304.47 138.41,302.30 C138.05,300.13 136.96,298.72 136.51,297.00 C136.06,295.28 135.71,293.67 135.71,292.00 C135.71,290.33 136.09,288.42 136.51,287.00 C136.93,285.58 137.89,284.50 138.21,283.50 C138.53,282.50 138.64,281.75 138.41,281.00 C138.18,280.25 137.26,279.75 136.81,279.00 C136.36,278.25 135.88,277.30 135.71,276.50 C135.54,275.70 135.79,274.58 135.81,274.20 Z" fill="#d98d87" stroke="#9a5a5a" stroke-width="0.55"/>
<line x1="139.01" y1="325.00" x2="139.01" y2="358.00" stroke="#5a1a20" stroke-width="0.6"/>
<rect x="135.56" y="338.10" width="6.90" height="11.50" fill="#b83c48" stroke="#5a1a20" stroke-width="0.5"/>
<line x1="135.56" y1="343.90" x2="142.46" y2="343.90" stroke="#3a0a10" stroke-width="1.3"/>
<circle cx="139.01" cy="277.00" r="0.9" fill="none" stroke="#5a1a20" stroke-width="0.35"/>
<circle cx="139.01" cy="293.00" r="0.9" fill="none" stroke="#5a1a20" stroke-width="0.35"/>
<circle cx="139.01" cy="340.00" r="0.9" fill="none" stroke="#5a1a20" stroke-width="0.35"/>
<circle cx="139.01" cy="346.00" r="0.9" fill="none" stroke="#5a1a20" stroke-width="0.35"/>
<circle cx="139.01" cy="352.00" r="0.9" fill="none" stroke="#5a1a20" stroke-width="0.35"/>
<path d="M81.67,241.40 L81.67,238.90 L139.01,238.90 L139.01,241.40" fill="none" stroke="#151515" stroke-width="0.85"/>
<text x="110.34" y="240.10" font-size="7" fill="#222" text-anchor="middle">**</text>
<path d="M53.00,252.00 L53.00,249.50 L139.01,249.50 L139.01,252.00" fill="none" stroke="#151515" stroke-width="0.85"/>
<text x="96.00" y="250.70" font-size="7" fill="#222" text-anchor="middle">***</text>
<path d="M53.00,262.50 L53.00,260.00 L110.34,260.00 L110.34,262.50" fill="none" stroke="#151515" stroke-width="0.85"/>
<text x="81.67" y="261.20" font-size="7" fill="#222" text-anchor="middle">***</text>
<path d="M53.00,273.00 L53.00,270.50 L81.67,270.50 L81.67,273.00" fill="none" stroke="#151515" stroke-width="0.85"/>
<text x="67.34" y="271.70" font-size="7" fill="#222" text-anchor="middle">**</text>
<rect x="35.80" y="231.80" width="121.30" height="144.50" fill="none" stroke="#1a1a1a" stroke-width="1.15"/>
<text x="40.00" y="226.50" font-size="6.1" fill="#222" textLength="60.8" lengthAdjust="spacingAndGlyphs">CD4 IL17a Production</text>
<text transform="translate(15.00,304.05) rotate(-90)" x="0" y="0" font-size="9" fill="#222" text-anchor="middle" textLength="120.8" lengthAdjust="spacingAndGlyphs">Fraction of IL 17a producing cells</text>
<line x1="32.40" y1="268.60" x2="35.80" y2="268.60" stroke="#222" stroke-width="0.8"/>
<text x="29.20" y="270.70" font-size="5.9" fill="#333" text-anchor="end" textLength="8.2" lengthAdjust="spacingAndGlyphs">1,0</text>
<line x1="32.40" y1="315.80" x2="35.80" y2="315.80" stroke="#222" stroke-width="0.8"/>
<text x="29.20" y="317.90" font-size="5.9" fill="#333" text-anchor="end" textLength="8.2" lengthAdjust="spacingAndGlyphs">0,5</text>
<line x1="32.40" y1="363.00" x2="35.80" y2="363.00" stroke="#222" stroke-width="0.8"/>
<text x="29.20" y="365.10" font-size="5.9" fill="#333" text-anchor="end" textLength="8.2" lengthAdjust="spacingAndGlyphs">0,0</text>
<line x1="53.00" y1="376.30" x2="53.00" y2="379.50" stroke="#222" stroke-width="0.8"/>
<text x="53.00" y="388.50" font-size="6.2" fill="#222" text-anchor="middle" textLength="21.9" lengthAdjust="spacingAndGlyphs">HD CD4</text>
<line x1="81.67" y1="376.30" x2="81.67" y2="379.50" stroke="#222" stroke-width="0.8"/>
<text x="81.67" y="388.50" font-size="6.2" fill="#222" text-anchor="middle" textLength="20.1" lengthAdjust="spacingAndGlyphs">PB CD4</text>
<line x1="110.34" y1="376.30" x2="110.34" y2="379.50" stroke="#222" stroke-width="0.8"/>
<text x="110.34" y="388.50" font-size="6.2" fill="#222" text-anchor="middle" textLength="20.7" lengthAdjust="spacingAndGlyphs">TIL CD4</text>
<line x1="139.01" y1="376.30" x2="139.01" y2="379.50" stroke="#222" stroke-width="0.8"/>
<text x="139.01" y="388.50" font-size="6.2" fill="#222" text-anchor="middle" textLength="17.8" lengthAdjust="spacingAndGlyphs">Tumor</text>
<text x="53.00" y="371.90" font-size="6.2" fill="#222" text-anchor="middle" textLength="10.4" lengthAdjust="spacingAndGlyphs">n=9</text>
<text x="81.67" y="371.90" font-size="6.2" fill="#222" text-anchor="middle" textLength="14.2" lengthAdjust="spacingAndGlyphs">n=11</text>
<text x="110.34" y="371.90" font-size="6.2" fill="#222" text-anchor="middle" textLength="14.2" lengthAdjust="spacingAndGlyphs">n=11</text>
<text x="139.01" y="371.90" font-size="6.2" fill="#222" text-anchor="middle" textLength="14.2" lengthAdjust="spacingAndGlyphs">n=11</text>
<text x="96.45" y="401.10" font-size="9.4" fill="#222" text-anchor="middle" textLength="40.4" lengthAdjust="spacingAndGlyphs">Population</text>
<text x="39.10" y="287.40" font-size="5.2" fill="#1a1a1a" textLength="25.7" lengthAdjust="spacingAndGlyphs">Population</text>
<rect x="39.10" y="291.80" width="6.4" height="6.4" fill="#6e6e8e"/>
<rect x="40.70" y="293.00" width="3.2" height="4" fill="#a4a4bc" stroke="#4c4c5c" stroke-width="0.4"/>
<line x1="40.70" y1="295.00" x2="43.90" y2="295.00" stroke="#222" stroke-width="0.6"/>
<text x="47.90" y="296.80" font-size="5.0" fill="#1a1a1a" textLength="18.9" lengthAdjust="spacingAndGlyphs">HD CD4</text>
<rect x="39.10" y="301.20" width="6.4" height="6.4" fill="#6e6e8e"/>
<rect x="40.70" y="302.40" width="3.2" height="4" fill="#a4a4bc" stroke="#4c4c5c" stroke-width="0.4"/>
<line x1="40.70" y1="304.40" x2="43.90" y2="304.40" stroke="#222" stroke-width="0.6"/>
<text x="47.90" y="306.20" font-size="5.0" fill="#1a1a1a" textLength="17.3" lengthAdjust="spacingAndGlyphs">PB CD4</text>
<rect x="39.10" y="310.60" width="6.4" height="6.4" fill="#6e6e8e"/>
<rect x="40.70" y="311.80" width="3.2" height="4" fill="#a4a4bc" stroke="#4c4c5c" stroke-width="0.4"/>
<line x1="40.70" y1="313.80" x2="43.90" y2="313.80" stroke="#222" stroke-width="0.6"/>
<text x="47.90" y="315.60" font-size="5.0" fill="#1a1a1a" textLength="17.8" lengthAdjust="spacingAndGlyphs">TIL CD4</text>
<rect x="39.10" y="320.00" width="6.4" height="6.4" fill="#8a2a32"/>
<rect x="40.70" y="321.20" width="3.2" height="4" fill="#b04850" stroke="#5a1a20" stroke-width="0.4"/>
<line x1="40.70" y1="323.20" x2="43.90" y2="323.20" stroke="#222" stroke-width="0.6"/>
<text x="47.90" y="325.00" font-size="5.0" fill="#1a1a1a" textLength="15.0" lengthAdjust="spacingAndGlyphs">Tumor</text>
<path d="M225.60,352.70 C226.10,352.83 228.02,353.03 228.60,353.50 C229.18,353.97 229.18,354.83 229.10,355.50 C229.02,356.17 228.10,356.83 228.10,357.50 C228.10,358.17 228.93,358.75 229.10,359.50 C229.27,360.25 229.68,361.40 229.10,362.00 C228.52,362.60 226.18,362.92 225.60,363.10 L211.60,363.10 C211.02,362.92 208.68,362.60 208.10,362.00 C207.52,361.40 207.93,360.25 208.10,359.50 C208.27,358.75 209.10,358.17 209.10,357.50 C209.10,356.83 208.18,356.17 208.10,355.50 C208.02,354.83 208.02,353.97 208.60,353.50 C209.18,353.03 211.10,352.83 211.60,352.70 Z" fill="#c6c6da" stroke="#6c6c80" stroke-width="0.55"/>
<rect x="215.20" y="354.00" width="6.80" height="7.00" fill="#9e9eb8" stroke="#4c4c5c" stroke-width="0.5"/>
<line x1="215.20" y1="358.00" x2="222.00" y2="358.00" stroke="#111" stroke-width="1.3"/>
<path d="M247.77,348.10 C247.82,349.75 247.49,356.10 248.07,358.00 C248.65,359.90 249.57,359.03 251.27,359.50 C252.97,359.97 257.27,360.42 258.27,360.80 C259.27,361.18 258.60,361.55 257.27,361.80 C255.94,362.05 251.44,362.22 250.27,362.30 L244.27,362.30 C243.10,362.22 238.60,362.05 237.27,361.80 C235.94,361.55 235.27,361.18 236.27,360.80 C237.27,360.42 241.57,359.97 243.27,359.50 C244.97,359.03 245.89,359.90 246.47,358.00 C247.05,356.10 246.72,349.75 246.77,348.10 Z" fill="#c6c6da" stroke="#6c6c80" stroke-width="0.55"/>
<line x1="247.27" y1="348.10" x2="247.27" y2="362.30" stroke="#4c4c5c" stroke-width="0.6"/>
<rect x="244.77" y="359.20" width="5.00" height="2.60" fill="#9e9eb8" stroke="#4c4c5c" stroke-width="0.5"/>
<line x1="244.77" y1="360.60" x2="249.77" y2="360.60" stroke="#111" stroke-width="1.3"/>
<path d="M279.94,348.10 C280.02,348.42 280.02,349.35 280.44,350.00 C280.86,350.65 281.52,351.17 282.44,352.00 C283.36,352.83 285.19,354.00 285.94,355.00 C286.69,356.00 286.86,357.08 286.94,358.00 C287.02,358.92 286.77,359.85 286.44,360.50 C286.11,361.15 285.19,361.67 284.94,361.90 L266.94,361.90 C266.69,361.67 265.77,361.15 265.44,360.50 C265.11,359.85 264.86,358.92 264.94,358.00 C265.02,357.08 265.19,356.00 265.94,355.00 C266.69,354.00 268.52,352.83 269.44,352.00 C270.36,351.17 271.02,350.65 271.44,350.00 C271.86,349.35 271.86,348.42 271.94,348.10 Z" fill="#c6c6da" stroke="#6c6c80" stroke-width="0.55"/>
<line x1="275.94" y1="348.00" x2="275.94" y2="362.00" stroke="#4c4c5c" stroke-width="0.6"/>
<rect x="271.64" y="350.00" width="8.60" height="8.00" fill="#9e9eb8" stroke="#4c4c5c" stroke-width="0.5"/>
<line x1="271.64" y1="356.00" x2="280.24" y2="356.00" stroke="#111" stroke-width="1.3"/>
<path d="M307.41,325.00 C307.53,326.33 307.74,329.73 308.11,333.00 C308.48,336.27 309.03,341.93 309.61,344.60 C310.19,347.27 310.78,347.47 311.61,349.00 C312.44,350.53 313.94,352.13 314.61,353.80 C315.28,355.47 315.44,357.27 315.61,359.00 C315.78,360.73 315.61,363.33 315.61,364.20 L293.61,364.20 C293.61,363.33 293.44,360.73 293.61,359.00 C293.78,357.27 293.94,355.47 294.61,353.80 C295.28,352.13 296.78,350.53 297.61,349.00 C298.44,347.47 299.03,347.27 299.61,344.60 C300.19,341.93 300.74,336.27 301.11,333.00 C301.48,329.73 301.69,326.33 301.81,325.00 Z" fill="#d98d87" stroke="#9a5a5a" stroke-width="0.55"/>
<line x1="304.61" y1="325.00" x2="304.61" y2="364.00" stroke="#5a1a20" stroke-width="0.6"/>
<rect x="300.81" y="345.80" width="7.60" height="16.20" fill="#b83c48" stroke="#5a1a20" stroke-width="0.5"/>
<line x1="300.81" y1="349.20" x2="308.41" y2="349.20" stroke="#3a0a10" stroke-width="1.3"/>
<circle cx="304.61" cy="330.00" r="0.9" fill="none" stroke="#5a1a20" stroke-width="0.35"/>
<circle cx="304.61" cy="340.00" r="0.9" fill="none" stroke="#5a1a20" stroke-width="0.35"/>
<circle cx="304.61" cy="355.00" r="0.9" fill="none" stroke="#5a1a20" stroke-width="0.35"/>
<path d="M247.27,326.30 L247.27,323.80 L275.94,323.80 L275.94,326.30" fill="none" stroke="#151515" stroke-width="0.85"/>
<text x="261.61" y="325.00" font-size="7" fill="#222" text-anchor="middle">*</text>
<rect x="201.40" y="231.80" width="120.90" height="144.60" fill="none" stroke="#1a1a1a" stroke-width="1.15"/>
<text x="205.50" y="226.50" font-size="6.1" fill="#222" textLength="57.2" lengthAdjust="spacingAndGlyphs">CD4 IL10 Production</text>
<text transform="translate(181.00,304.10) rotate(-90)" x="0" y="0" font-size="9" fill="#222" text-anchor="middle" textLength="116.6" lengthAdjust="spacingAndGlyphs">Fraction of IL10 producing cells</text>
<line x1="198.00" y1="268.60" x2="201.40" y2="268.60" stroke="#222" stroke-width="0.8"/>
<text x="194.80" y="270.70" font-size="5.9" fill="#333" text-anchor="end" textLength="8.2" lengthAdjust="spacingAndGlyphs">1,0</text>
<line x1="198.00" y1="315.80" x2="201.40" y2="315.80" stroke="#222" stroke-width="0.8"/>
<text x="194.80" y="317.90" font-size="5.9" fill="#333" text-anchor="end" textLength="8.2" lengthAdjust="spacingAndGlyphs">0,5</text>
<line x1="198.00" y1="363.00" x2="201.40" y2="363.00" stroke="#222" stroke-width="0.8"/>
<text x="194.80" y="365.10" font-size="5.9" fill="#333" text-anchor="end" textLength="8.2" lengthAdjust="spacingAndGlyphs">0,0</text>
<line x1="218.60" y1="376.40" x2="218.60" y2="379.60" stroke="#222" stroke-width="0.8"/>
<text x="218.60" y="388.60" font-size="6.2" fill="#222" text-anchor="middle" textLength="21.9" lengthAdjust="spacingAndGlyphs">HD CD4</text>
<line x1="247.27" y1="376.40" x2="247.27" y2="379.60" stroke="#222" stroke-width="0.8"/>
<text x="247.27" y="388.60" font-size="6.2" fill="#222" text-anchor="middle" textLength="20.1" lengthAdjust="spacingAndGlyphs">PB CD4</text>
<line x1="275.94" y1="376.40" x2="275.94" y2="379.60" stroke="#222" stroke-width="0.8"/>
<text x="275.94" y="388.60" font-size="6.2" fill="#222" text-anchor="middle" textLength="20.7" lengthAdjust="spacingAndGlyphs">TIL CD4</text>
<line x1="304.61" y1="376.40" x2="304.61" y2="379.60" stroke="#222" stroke-width="0.8"/>
<text x="304.61" y="388.60" font-size="6.2" fill="#222" text-anchor="middle" textLength="17.8" lengthAdjust="spacingAndGlyphs">Tumor</text>
<text x="218.60" y="372.00" font-size="6.2" fill="#222" text-anchor="middle" textLength="10.4" lengthAdjust="spacingAndGlyphs">n=9</text>
<text x="247.27" y="372.00" font-size="6.2" fill="#222" text-anchor="middle" textLength="14.2" lengthAdjust="spacingAndGlyphs">n=11</text>
<text x="275.94" y="372.00" font-size="6.2" fill="#222" text-anchor="middle" textLength="14.2" lengthAdjust="spacingAndGlyphs">n=11</text>
<text x="304.61" y="372.00" font-size="6.2" fill="#222" text-anchor="middle" textLength="14.2" lengthAdjust="spacingAndGlyphs">n=11</text>
<text x="261.85" y="401.20" font-size="9.4" fill="#222" text-anchor="middle" textLength="39.7" lengthAdjust="spacingAndGlyphs">Population</text>
<text x="204.70" y="244.80" font-size="5.2" fill="#1a1a1a" textLength="25.7" lengthAdjust="spacingAndGlyphs">Population</text>
<rect x="204.70" y="249.20" width="6.4" height="6.4" fill="#6e6e8e"/>
<rect x="206.30" y="250.40" width="3.2" height="4" fill="#a4a4bc" stroke="#4c4c5c" stroke-width="0.4"/>
<line x1="206.30" y1="252.40" x2="209.50" y2="252.40" stroke="#222" stroke-width="0.6"/>
<text x="213.50" y="254.20" font-size="5.0" fill="#1a1a1a" textLength="18.9" lengthAdjust="spacingAndGlyphs">HD CD4</text>
<rect x="204.70" y="258.60" width="6.4" height="6.4" fill="#6e6e8e"/>
<rect x="206.30" y="259.80" width="3.2" height="4" fill="#a4a4bc" stroke="#4c4c5c" stroke-width="0.4"/>
<line x1="206.30" y1="261.80" x2="209.50" y2="261.80" stroke="#222" stroke-width="0.6"/>
<text x="213.50" y="263.60" font-size="5.0" fill="#1a1a1a" textLength="17.3" lengthAdjust="spacingAndGlyphs">PB CD4</text>
<rect x="204.70" y="268.00" width="6.4" height="6.4" fill="#6e6e8e"/>
<rect x="206.30" y="269.20" width="3.2" height="4" fill="#a4a4bc" stroke="#4c4c5c" stroke-width="0.4"/>
<line x1="206.30" y1="271.20" x2="209.50" y2="271.20" stroke="#222" stroke-width="0.6"/>
<text x="213.50" y="273.00" font-size="5.0" fill="#1a1a1a" textLength="17.8" lengthAdjust="spacingAndGlyphs">TIL CD4</text>
<rect x="204.70" y="277.40" width="6.4" height="6.4" fill="#8a2a32"/>
<rect x="206.30" y="278.60" width="3.2" height="4" fill="#b04850" stroke="#5a1a20" stroke-width="0.4"/>
<line x1="206.30" y1="280.60" x2="209.50" y2="280.60" stroke="#222" stroke-width="0.6"/>
<text x="213.50" y="282.40" font-size="5.0" fill="#1a1a1a" textLength="15.0" lengthAdjust="spacingAndGlyphs">Tumor</text>
<path d="M396.30,351.90 C396.63,352.02 397.47,352.08 398.30,352.60 C399.13,353.12 400.43,354.02 401.30,355.00 C402.17,355.98 403.67,357.63 403.50,358.50 C403.33,359.37 401.67,359.75 400.30,360.20 C398.93,360.65 396.13,361.03 395.30,361.20 L383.30,361.20 C382.47,361.03 379.67,360.65 378.30,360.20 C376.93,359.75 375.27,359.37 375.10,358.50 C374.93,357.63 376.43,355.98 377.30,355.00 C378.17,354.02 379.47,353.12 380.30,352.60 C381.13,352.08 381.97,352.02 382.30,351.90 Z" fill="#c6c6da" stroke="#6c6c80" stroke-width="0.55"/>
<line x1="389.30" y1="352.00" x2="389.30" y2="362.00" stroke="#4c4c5c" stroke-width="0.6"/>
<rect x="384.80" y="353.50" width="9.00" height="5.50" fill="#9e9eb8" stroke="#4c4c5c" stroke-width="0.5"/>
<line x1="384.80" y1="356.50" x2="393.80" y2="356.50" stroke="#111" stroke-width="1.3"/>
<path d="M428.65,279.20 C428.75,279.58 429.25,280.73 429.25,281.50 C429.25,282.27 428.82,282.72 428.65,283.80 C428.48,284.88 428.30,286.63 428.25,288.00 C428.20,289.37 428.13,290.00 428.35,292.00 C428.57,294.00 429.07,297.13 429.55,300.00 C430.03,302.87 430.50,306.53 431.25,309.20 C432.00,311.87 433.08,313.68 434.05,316.00 C435.02,318.32 436.05,320.38 437.05,323.10 C438.05,325.82 439.42,329.48 440.05,332.30 C440.68,335.12 440.68,337.68 440.85,340.00 C441.02,342.32 441.15,344.37 441.05,346.20 C440.95,348.03 440.75,349.47 440.25,351.00 C439.75,352.53 438.42,354.67 438.05,355.40 L416.05,355.40 C415.68,354.67 414.35,352.53 413.85,351.00 C413.35,349.47 413.15,348.03 413.05,346.20 C412.95,344.37 413.08,342.32 413.25,340.00 C413.42,337.68 413.42,335.12 414.05,332.30 C414.68,329.48 416.05,325.82 417.05,323.10 C418.05,320.38 419.08,318.32 420.05,316.00 C421.02,313.68 422.10,311.87 422.85,309.20 C423.60,306.53 424.07,302.87 424.55,300.00 C425.03,297.13 425.53,294.00 425.75,292.00 C425.97,290.00 425.90,289.37 425.85,288.00 C425.80,286.63 425.62,284.88 425.45,283.80 C425.28,282.72 424.85,282.27 424.85,281.50 C424.85,280.73 425.35,279.58 425.45,279.20 Z" fill="#c6c6da" stroke="#6c6c80" stroke-width="0.55"/>
<line x1="427.05" y1="280.00" x2="427.05" y2="356.50" stroke="#4c4c5c" stroke-width="0.6"/>
<rect x="422.20" y="325.90" width="9.70" height="22.60" fill="#9e9eb8" stroke="#4c4c5c" stroke-width="0.5"/>
<line x1="422.20" y1="335.10" x2="431.90" y2="335.10" stroke="#111" stroke-width="1.3"/>
<circle cx="427.05" cy="310.00" r="0.9" fill="none" stroke="#4c4c5c" stroke-width="0.35"/>
<circle cx="427.05" cy="316.00" r="0.9" fill="none" stroke="#4c4c5c" stroke-width="0.35"/>
<circle cx="427.05" cy="330.00" r="0.9" fill="none" stroke="#4c4c5c" stroke-width="0.35"/>
<circle cx="427.05" cy="340.00" r="0.9" fill="none" stroke="#4c4c5c" stroke-width="0.35"/>
<circle cx="427.05" cy="352.00" r="0.9" fill="none" stroke="#4c4c5c" stroke-width="0.35"/>
<path d="M476.80,301.00 C477.13,301.50 478.43,302.50 478.80,304.00 C479.17,305.50 479.00,307.97 479.00,310.00 C479.00,312.03 479.17,314.03 478.80,316.20 C478.43,318.37 477.47,320.70 476.80,323.00 C476.13,325.30 475.55,327.83 474.80,330.00 C474.05,332.17 473.13,334.08 472.30,336.00 C471.47,337.92 470.55,339.92 469.80,341.50 C469.05,343.08 468.38,344.33 467.80,345.50 C467.22,346.67 466.55,348.00 466.30,348.50 L463.30,348.50 C463.05,348.00 462.38,346.67 461.80,345.50 C461.22,344.33 460.55,343.08 459.80,341.50 C459.05,339.92 458.13,337.92 457.30,336.00 C456.47,334.08 455.55,332.17 454.80,330.00 C454.05,327.83 453.47,325.30 452.80,323.00 C452.13,320.70 451.17,318.37 450.80,316.20 C450.43,314.03 450.60,312.03 450.60,310.00 C450.60,307.97 450.43,305.50 450.80,304.00 C451.17,302.50 452.47,301.50 452.80,301.00 Z" fill="#c6c6da" stroke="#6c6c80" stroke-width="0.55"/>
<line x1="464.80" y1="299.50" x2="464.80" y2="347.50" stroke="#4c4c5c" stroke-width="0.6"/>
<rect x="460.20" y="309.20" width="9.20" height="18.00" fill="#9e9eb8" stroke="#4c4c5c" stroke-width="0.5"/>
<line x1="460.20" y1="318.00" x2="469.40" y2="318.00" stroke="#111" stroke-width="1.3"/>
<circle cx="462.80" cy="312.00" r="0.9" fill="none" stroke="#4c4c5c" stroke-width="0.35"/>
<circle cx="466.80" cy="312.00" r="0.9" fill="none" stroke="#4c4c5c" stroke-width="0.35"/>
<circle cx="462.80" cy="322.00" r="0.9" fill="none" stroke="#4c4c5c" stroke-width="0.35"/>
<circle cx="466.80" cy="322.00" r="0.9" fill="none" stroke="#4c4c5c" stroke-width="0.35"/>
<circle cx="464.80" cy="330.00" r="0.9" fill="none" stroke="#4c4c5c" stroke-width="0.35"/>
<circle cx="464.80" cy="336.00" r="0.9" fill="none" stroke="#4c4c5c" stroke-width="0.35"/>
<circle cx="464.80" cy="343.00" r="0.9" fill="none" stroke="#4c4c5c" stroke-width="0.35"/>
<path d="M389.30,258.20 L389.30,255.70 L464.80,255.70 L464.80,258.20" fill="none" stroke="#151515" stroke-width="0.85"/>
<text x="427.05" y="256.90" font-size="7" fill="#222" text-anchor="middle">****</text>
<path d="M427.05,268.30 L427.05,265.80 L464.80,265.80 L464.80,268.30" fill="none" stroke="#151515" stroke-width="0.85"/>
<text x="445.93" y="267.00" font-size="7" fill="#222" text-anchor="middle">**</text>
<path d="M389.30,277.80 L389.30,275.30 L427.05,275.30 L427.05,277.80" fill="none" stroke="#151515" stroke-width="0.85"/>
<text x="408.18" y="276.50" font-size="7" fill="#222" text-anchor="middle">****</text>
<rect x="366.60" y="231.70" width="120.70" height="144.70" fill="none" stroke="#1a1a1a" stroke-width="1.15"/>
<text x="371.00" y="226.50" font-size="6.1" fill="#222" textLength="59.8" lengthAdjust="spacingAndGlyphs">CD8 IL17a Production</text>
<text transform="translate(345.00,304.05) rotate(-90)" x="0" y="0" font-size="9" fill="#222" text-anchor="middle" textLength="120.8" lengthAdjust="spacingAndGlyphs">Fraction of IL17a producing cells</text>
<line x1="363.20" y1="268.60" x2="366.60" y2="268.60" stroke="#222" stroke-width="0.8"/>
<text x="360.00" y="270.70" font-size="5.9" fill="#333" text-anchor="end" textLength="8.2" lengthAdjust="spacingAndGlyphs">1,0</text>
<line x1="363.20" y1="315.80" x2="366.60" y2="315.80" stroke="#222" stroke-width="0.8"/>
<text x="360.00" y="317.90" font-size="5.9" fill="#333" text-anchor="end" textLength="8.2" lengthAdjust="spacingAndGlyphs">0,5</text>
<line x1="363.20" y1="363.00" x2="366.60" y2="363.00" stroke="#222" stroke-width="0.8"/>
<text x="360.00" y="365.10" font-size="5.9" fill="#333" text-anchor="end" textLength="8.2" lengthAdjust="spacingAndGlyphs">0,0</text>
<line x1="389.30" y1="376.40" x2="389.30" y2="379.60" stroke="#222" stroke-width="0.8"/>
<text x="389.30" y="388.60" font-size="6.2" fill="#222" text-anchor="middle" textLength="21.6" lengthAdjust="spacingAndGlyphs">HD CD8</text>
<line x1="427.05" y1="376.40" x2="427.05" y2="379.60" stroke="#222" stroke-width="0.8"/>
<text x="427.05" y="388.60" font-size="6.2" fill="#222" text-anchor="middle" textLength="20.1" lengthAdjust="spacingAndGlyphs">PB CD8</text>
<line x1="464.80" y1="376.40" x2="464.80" y2="379.60" stroke="#222" stroke-width="0.8"/>
<text x="464.80" y="388.60" font-size="6.2" fill="#222" text-anchor="middle" textLength="21.1" lengthAdjust="spacingAndGlyphs">TIL CD8</text>
<text x="389.30" y="372.00" font-size="6.2" fill="#222" text-anchor="middle" textLength="10.4" lengthAdjust="spacingAndGlyphs">n=9</text>
<text x="427.05" y="372.00" font-size="6.2" fill="#222" text-anchor="middle" textLength="14.2" lengthAdjust="spacingAndGlyphs">n=20</text>
<text x="464.80" y="372.00" font-size="6.2" fill="#222" text-anchor="middle" textLength="14.2" lengthAdjust="spacingAndGlyphs">n=20</text>
<text x="426.95" y="401.20" font-size="9.4" fill="#222" text-anchor="middle" textLength="40.2" lengthAdjust="spacingAndGlyphs">Population</text>
<text x="369.90" y="296.30" font-size="5.2" fill="#1a1a1a" textLength="25.7" lengthAdjust="spacingAndGlyphs">Population</text>
<rect x="369.90" y="300.70" width="6.4" height="6.4" fill="#6e6e8e"/>
<rect x="371.50" y="301.90" width="3.2" height="4" fill="#a4a4bc" stroke="#4c4c5c" stroke-width="0.4"/>
<line x1="371.50" y1="303.90" x2="374.70" y2="303.90" stroke="#222" stroke-width="0.6"/>
<text x="378.70" y="305.70" font-size="5.0" fill="#1a1a1a" textLength="18.9" lengthAdjust="spacingAndGlyphs">HD CD8</text>
<rect x="369.90" y="310.10" width="6.4" height="6.4" fill="#6e6e8e"/>
<rect x="371.50" y="311.30" width="3.2" height="4" fill="#a4a4bc" stroke="#4c4c5c" stroke-width="0.4"/>
<line x1="371.50" y1="313.30" x2="374.70" y2="313.30" stroke="#222" stroke-width="0.6"/>
<text x="378.70" y="315.10" font-size="5.0" fill="#1a1a1a" textLength="17.3" lengthAdjust="spacingAndGlyphs">PB CD8</text>
<rect x="369.90" y="319.50" width="6.4" height="6.4" fill="#6e6e8e"/>
<rect x="371.50" y="320.70" width="3.2" height="4" fill="#a4a4bc" stroke="#4c4c5c" stroke-width="0.4"/>
<line x1="371.50" y1="322.70" x2="374.70" y2="322.70" stroke="#222" stroke-width="0.6"/>
<text x="378.70" y="324.50" font-size="5.0" fill="#1a1a1a" textLength="17.8" lengthAdjust="spacingAndGlyphs">TIL CD8</text>
<defs>
<filter id="sb1" x="-50%" y="-50%" width="200%" height="200%"><feGaussianBlur stdDeviation="1.5"/></filter>
<filter id="sb2" x="-50%" y="-50%" width="200%" height="200%"><feGaussianBlur stdDeviation="3"/></filter>
<filter id="sb3" x="-50%" y="-50%" width="200%" height="200%"><feGaussianBlur stdDeviation="5"/></filter>
<filter id="rough" x="-5%" y="-5%" width="110%" height="110%"><feTurbulence type="fractalNoise" baseFrequency="0.7" numOctaves="1" seed="2" result="t"/><feDisplacementMap in="SourceGraphic" in2="t" scale="2.6" xChannelSelector="R" yChannelSelector="G"/></filter>
<filter id="sb05" x="-50%" y="-50%" width="200%" height="200%"><feGaussianBlur stdDeviation="0.8"/></filter>
</defs>
<defs><mask id="mLeft" maskUnits="userSpaceOnUse" x="0" y="0" width="600" height="800"><rect x="0" y="0" width="600" height="800" fill="#000"/><rect x="0" y="0" width="600" height="800" fill="url(#gLeftM)"/></mask></defs>
<defs><linearGradient id="gLeftM" x1="35" y1="0" x2="130" y2="0" gradientUnits="userSpaceOnUse"><stop offset="0" stop-color="#fff"/><stop offset="0.4" stop-color="#b0b0b0"/><stop offset="0.75" stop-color="#555"/><stop offset="1" stop-color="#222"/></linearGradient></defs>
<defs><mask id="mTumor" maskUnits="userSpaceOnUse" x="0" y="0" width="600" height="800"><rect x="0" y="0" width="600" height="800" fill="#000"/><path d="M30.0,440.0 L125.0,440.0 L118.0,472.0 L116.3,474.6 L110.6,480.4 L103.8,487.1 L98.0,492.9 L96.2,499.6 L90.4,507.3 L84.6,512.1 L80.0,518.0 L79.0,522.0 L70.0,530.0 L30.0,530.0 Z" fill="#fff"/></mask></defs>
<defs><mask id="mRight" maskUnits="userSpaceOnUse" x="0" y="0" width="600" height="800"><rect x="0" y="0" width="600" height="800" fill="#000"/><path d="M125.0,440.0 L150.0,440.0 L150.0,560.0 L30.0,560.0 L30.0,530.0 L70.0,530.0 L79.0,522.0 L80.0,518.0 L84.6,512.1 L90.4,507.3 L96.2,499.6 L98.0,492.9 L103.8,487.1 L110.6,480.4 L116.3,474.6 L118.0,472.0 Z" fill="#fff"/></mask></defs>
<defs><mask id="mLower" maskUnits="userSpaceOnUse" x="0" y="0" width="600" height="800"><rect x="0" y="0" width="600" height="800" fill="#000"/><path d="M76.0,525.5 L94.0,524.6 L106.0,527.5 L125.0,524.5 L125.0,555.0 L76.0,555.0 Z" fill="#fff"/></mask></defs>
<defs><mask id="mNotLower" maskUnits="userSpaceOnUse" x="0" y="0" width="600" height="800"><rect x="0" y="0" width="600" height="800" fill="#fff"/><path d="M76.0,525.5 L94.0,524.6 L106.0,527.5 L125.0,524.5 L125.0,555.0 L76.0,555.0 Z" fill="#000"/></mask></defs>
<defs><linearGradient id="gTan" x1="40" y1="470" x2="122" y2="478" gradientUnits="userSpaceOnUse"><stop offset="0" stop-color="#b28d54"/><stop offset="0.4" stop-color="#9c7a4a"/><stop offset="0.72" stop-color="#6a5436"/><stop offset="1" stop-color="#2a2218"/></linearGradient></defs>
<filter id="nz1" x="-5%" y="-5%" width="110%" height="110%" color-interpolation-filters="sRGB"><feTurbulence type="fractalNoise" baseFrequency="0.28" numOctaves="2" seed="3" result="t"/><feColorMatrix in="t" type="matrix" values="0 0 0 0 0.133  0 0 0 0 0.106  0 0 0 0 0.071  2.5 0 0 0 -0.842" result="c"/><feComposite in="c" in2="SourceAlpha" operator="in"/></filter>
<filter id="nz2" x="-5%" y="-5%" width="110%" height="110%" color-interpolation-filters="sRGB"><feTurbulence type="fractalNoise" baseFrequency="0.6" numOctaves="2" seed="8" result="t"/><feColorMatrix in="t" type="matrix" values="0 0 0 0 0.235  0 0 0 0 0.188  0 0 0 0 0.118  2.5 0 0 0 -0.907" result="c"/><feComposite in="c" in2="SourceAlpha" operator="in"/></filter>
<filter id="nz3" x="-5%" y="-5%" width="110%" height="110%" color-interpolation-filters="sRGB"><feTurbulence type="fractalNoise" baseFrequency="0.5" numOctaves="2" seed="4" result="t"/><feColorMatrix in="t" type="matrix" values="0 0 0 0 0.588  0 0 0 0 0.463  0 0 0 0 0.275  6 0 0 0 -4.234" result="c"/><feComposite in="c" in2="SourceAlpha" operator="in"/></filter>
<g transform="translate(0,0)">
<g filter="url(#rough)">
<g clip-path="url(#tsclip)"><rect x="30" y="440" width="115" height="115" fill="#151515"/>
<path d="M30.0,440.0 L125.0,440.0 L118.0,472.0 L116.3,474.6 L110.6,480.4 L103.8,487.1 L98.0,492.9 L96.2,499.6 L90.4,507.3 L84.6,512.1 L80.0,518.0 L79.0,522.0 L70.0,530.0 L30.0,530.0 Z" fill="url(#gTan)"/>
<path d="M64.0,528.0 L76.0,528.0 L76.0,540.0 L64.0,540.0 Z" fill="#a9854f"/>
<ellipse cx="128" cy="518" rx="4" ry="6" fill="#6a5434" filter="url(#sb1)"/>
<use href="#ts" filter="url(#nz1)" opacity="0.75" mask="url(#mTumor)"/>
<use href="#ts" filter="url(#nz2)" opacity="0.5" mask="url(#mTumor)"/>
<use href="#ts" filter="url(#nz3)" opacity="0.6" mask="url(#mRight)"/>
</g>
<path d="M89.0,509.5 L94.0,507.6 L99.0,509.0 L104.5,506.6 L108.6,507.8 L108.2,511.6 L103.0,511.0 L97.0,512.6 L92.0,513.6 L89.0,512.6 Z" fill="#fff"/><path d="M93.0,524.2 L99.0,523.6 L105.0,524.6 L109.5,525.6 L106.0,527.2 L100.0,526.4 L94.5,526.0 Z" fill="#fff"/><path d="M112.0,511.5 L115.5,510.8 L116.0,512.2 L112.5,512.8 Z" fill="#fff"/><polyline points="116.3,474.6 110.6,480.4 103.8,487.1 98,492.9 96.2,499.6 90.4,507.3 84.6,512.1 82,516.5" fill="none" stroke="#fff" stroke-width="0.7" stroke-dasharray="2 1.5" opacity="0.85"/>

</g>
</g>
<defs><mask id="mCD4noTIL" maskUnits="userSpaceOnUse" x="0" y="0" width="600" height="800"><rect x="0" y="0" width="600" height="800" fill="#000"/><path d="M30.0,440.0 L150.0,440.0 L150.0,560.0 L30.0,560.0 Z" fill="#fff"/><path d="M106.0,494.0 L124.0,492.0 L140.0,498.0 L138.0,508.0 L118.0,511.0 L104.0,508.0 Z" fill="#000" filter="url(#sb2)"/></mask></defs>
<filter id="nz4" x="-5%" y="-5%" width="110%" height="110%" color-interpolation-filters="sRGB"><feTurbulence type="fractalNoise" baseFrequency="0.14" numOctaves="2" seed="5" result="t"/><feColorMatrix in="t" type="matrix" values="0 0 0 0 0.306  0 0 0 0 0.314  0 0 0 0 0.588  6 0 0 0 -2.645" result="c"/><feComposite in="c" in2="SourceAlpha" operator="in"/></filter>
<filter id="nz5" x="-5%" y="-5%" width="110%" height="110%" color-interpolation-filters="sRGB"><feTurbulence type="fractalNoise" baseFrequency="0.14" numOctaves="2" seed="17" result="t"/><feColorMatrix in="t" type="matrix" values="0 0 0 0 0.776  0 0 0 0 0.345  0 0 0 0 0.314  6 0 0 0 -2.963" result="c"/><feComposite in="c" in2="SourceAlpha" operator="in"/></filter>
<filter id="nz6" x="-5%" y="-5%" width="110%" height="110%" color-interpolation-filters="sRGB"><feTurbulence type="fractalNoise" baseFrequency="0.35" numOctaves="2" seed="9" result="t"/><feColorMatrix in="t" type="matrix" values="0 0 0 0 0.086  0 0 0 0 0.063  0 0 0 0 0.094  3 0 0 0 -1.129" result="c"/><feComposite in="c" in2="SourceAlpha" operator="in"/></filter>
<filter id="nz7" x="-5%" y="-5%" width="110%" height="110%" color-interpolation-filters="sRGB"><feTurbulence type="fractalNoise" baseFrequency="0.7" numOctaves="2" seed="21" result="t"/><feColorMatrix in="t" type="matrix" values="0 0 0 0 0.086  0 0 0 0 0.063  0 0 0 0 0.094  3 0 0 0 -1.243" result="c"/><feComposite in="c" in2="SourceAlpha" operator="in"/></filter>
<g transform="translate(120,0)">
<g filter="url(#rough)">
<g clip-path="url(#tsclip)"><rect x="30" y="440" width="115" height="115" fill="#2a1c28"/>
<use href="#ts" filter="url(#nz4)" opacity="1"/>
<use href="#ts" filter="url(#nz5)" opacity="1"/>
<ellipse cx="56" cy="462" rx="9" ry="5.5" fill="#c45a50" filter="url(#sb1)"/>
<ellipse cx="66" cy="478" rx="7" ry="9" fill="#b05048" filter="url(#sb2)"/>
<ellipse cx="94" cy="462" rx="12" ry="7" fill="#4a4c9a" filter="url(#sb2)"/>
<ellipse cx="84" cy="488" rx="8" ry="6" fill="#44468e" filter="url(#sb2)"/>
<ellipse cx="44" cy="480" rx="6" ry="6" fill="#46488f" filter="url(#sb2)"/>
<ellipse cx="128" cy="486" rx="10" ry="5" fill="#4a4c9a" filter="url(#sb2)"/>
<ellipse cx="108" cy="472" rx="8" ry="7" fill="#201620" filter="url(#sb2)"/>
<path d="M104.0,492.0 L122.0,490.0 L138.0,496.0 L138.0,508.0 L116.0,512.0 L100.0,508.0 Z" fill="#c85a50" filter="url(#sb2)"/>
<path d="M84.0,513.0 L114.0,512.0 L116.0,519.0 L84.0,521.0 Z" fill="#b04a44" filter="url(#sb1)"/>
<path d="M76.0,525.5 L94.0,524.6 L106.0,527.5 L125.0,524.5 L125.0,555.0 L76.0,555.0 Z" fill="#4a4c98"/>
<path d="M64.0,528.0 L76.0,528.0 L76.0,540.0 L64.0,540.0 Z" fill="#4c4e9c"/>
<ellipse cx="132" cy="514" rx="7" ry="4.5" fill="#4c4e9c" filter="url(#sb05)"/>
<ellipse cx="132" cy="522" rx="7" ry="3.5" fill="#a84842" filter="url(#sb05)"/>
<use href="#ts" filter="url(#nz6)" opacity="0.85" mask="url(#mCD4noTIL)"/>
<use href="#ts" filter="url(#nz7)" opacity="0.45"/>
<path d="M98.0,488.0 L112.0,484.0 L118.0,490.0 L108.0,496.0 L100.0,500.0 L96.0,496.0 Z" fill="#1c1420" filter="url(#sb2)"/>
</g>
<path d="M89.0,509.5 L94.0,507.6 L99.0,509.0 L104.5,506.6 L108.6,507.8 L108.2,511.6 L103.0,511.0 L97.0,512.6 L92.0,513.6 L89.0,512.6 Z" fill="#fff"/><path d="M93.0,524.2 L99.0,523.6 L105.0,524.6 L109.5,525.6 L106.0,527.2 L100.0,526.4 L94.5,526.0 Z" fill="#fff"/><path d="M112.0,511.5 L115.5,510.8 L116.0,512.2 L112.5,512.8 Z" fill="#fff"/><polyline points="116.3,474.6 110.6,480.4 103.8,487.1 98,492.9 96.2,499.6 90.4,507.3 84.6,512.1 82,516.5" fill="none" stroke="#fff" stroke-width="0.7" stroke-dasharray="2 1.5" opacity="0.85"/>

</g>
</g>
<defs><linearGradient id="gTilTop" x1="0" y1="525" x2="0" y2="535" gradientUnits="userSpaceOnUse"><stop offset="0" stop-color="#100a0e"/><stop offset="0.45" stop-color="#2a1216" stop-opacity="0.85"/><stop offset="1" stop-color="#c65850" stop-opacity="0"/></linearGradient></defs>
<filter id="nz8" x="-5%" y="-5%" width="110%" height="110%" color-interpolation-filters="sRGB"><feTurbulence type="fractalNoise" baseFrequency="0.09" numOctaves="2" seed="31" result="t"/><feColorMatrix in="t" type="matrix" values="0 0 0 0 0.086  0 0 0 0 0.063  0 0 0 0 0.094  3 0 0 0 -1.091" result="c"/><feComposite in="c" in2="SourceAlpha" operator="in"/></filter>
<filter id="nz9" x="-5%" y="-5%" width="110%" height="110%" color-interpolation-filters="sRGB"><feTurbulence type="fractalNoise" baseFrequency="0.45" numOctaves="2" seed="3" result="t"/><feColorMatrix in="t" type="matrix" values="0 0 0 0 0.086  0 0 0 0 0.063  0 0 0 0 0.094  3 0 0 0 -1.189" result="c"/><feComposite in="c" in2="SourceAlpha" operator="in"/></filter>
<filter id="nz10" x="-5%" y="-5%" width="110%" height="110%" color-interpolation-filters="sRGB"><feTurbulence type="fractalNoise" baseFrequency="0.7" numOctaves="2" seed="13" result="t"/><feColorMatrix in="t" type="matrix" values="0 0 0 0 0.086  0 0 0 0 0.063  0 0 0 0 0.094  3 0 0 0 -1.303" result="c"/><feComposite in="c" in2="SourceAlpha" operator="in"/></filter>
<filter id="nz11" x="-5%" y="-5%" width="110%" height="110%" color-interpolation-filters="sRGB"><feTurbulence type="fractalNoise" baseFrequency="0.6" numOctaves="2" seed="6" result="t"/><feColorMatrix in="t" type="matrix" values="0 0 0 0 0.353  0 0 0 0 0.118  0 0 0 0 0.118  3 0 0 0 -1.303" result="c"/><feComposite in="c" in2="SourceAlpha" operator="in"/></filter>
<g transform="translate(240,0)">
<g filter="url(#rough)">
<g clip-path="url(#tsclip)"><rect x="30" y="440" width="115" height="115" fill="#4e5096"/>
<use href="#ts" filter="url(#nz8)" opacity="0.75" mask="url(#mLeft)"/>
<use href="#ts" filter="url(#nz9)" opacity="0.55" mask="url(#mLeft)"/>
<use href="#ts" filter="url(#nz10)" opacity="0.35"/>
<path d="M76.0,525.5 L94.0,524.6 L106.0,527.5 L125.0,524.5 L125.0,555.0 L76.0,555.0 Z" fill="#c65850"/>
<path d="M64.0,528.0 L76.0,528.0 L76.0,540.0 L64.0,540.0 Z" fill="#c65850"/>
<path d="M84.0,522.0 L126.0,520.0 L126.0,536.0 L112.0,535.0 L96.0,533.0 L84.0,531.0 Z" fill="url(#gTilTop)"/>
<ellipse cx="119" cy="527.5" rx="4.5" ry="2.6" fill="#100a0e" filter="url(#sb05)"/>
<use href="#ts" filter="url(#nz11)" opacity="0.5" mask="url(#mLower)"/>
</g>
<path d="M89.0,509.5 L94.0,507.6 L99.0,509.0 L104.5,506.6 L108.6,507.8 L108.2,511.6 L103.0,511.0 L97.0,512.6 L92.0,513.6 L89.0,512.6 Z" fill="#fff"/><path d="M93.0,524.2 L99.0,523.6 L105.0,524.6 L109.5,525.6 L106.0,527.2 L100.0,526.4 L94.5,526.0 Z" fill="#fff"/><path d="M112.0,511.5 L115.5,510.8 L116.0,512.2 L112.5,512.8 Z" fill="#fff"/><polyline points="116.3,474.6 110.6,480.4 103.8,487.1 98,492.9 96.2,499.6 90.4,507.3 84.6,512.1 82,516.5" fill="none" stroke="#fff" stroke-width="0.7" stroke-dasharray="2 1.5" opacity="0.85"/>

</g>
</g>
<filter id="nz12" x="-5%" y="-5%" width="110%" height="110%" color-interpolation-filters="sRGB"><feTurbulence type="fractalNoise" baseFrequency="0.8" numOctaves="2" seed="14" result="t"/><feColorMatrix in="t" type="matrix" values="0 0 0 0 0.235  0 0 0 0 0.667  0 0 0 0 0.275  3 0 0 0 -1.303" result="c"/><feComposite in="c" in2="SourceAlpha" operator="in"/></filter>
<filter id="nz13" x="-5%" y="-5%" width="110%" height="110%" color-interpolation-filters="sRGB"><feTurbulence type="fractalNoise" baseFrequency="0.8" numOctaves="2" seed="15" result="t"/><feColorMatrix in="t" type="matrix" values="0 0 0 0 0.824  0 0 0 0 0.314  0 0 0 0 0.353  3 0 0 0 -1.303" result="c"/><feComposite in="c" in2="SourceAlpha" operator="in"/></filter>
<filter id="nz14" x="-5%" y="-5%" width="110%" height="110%" color-interpolation-filters="sRGB"><feTurbulence type="fractalNoise" baseFrequency="0.8" numOctaves="2" seed="16" result="t"/><feColorMatrix in="t" type="matrix" values="0 0 0 0 0.314  0 0 0 0 0.353  0 0 0 0 0.784  3 0 0 0 -1.303" result="c"/><feComposite in="c" in2="SourceAlpha" operator="in"/></filter>
<filter id="nz15" x="-5%" y="-5%" width="110%" height="110%" color-interpolation-filters="sRGB"><feTurbulence type="fractalNoise" baseFrequency="0.5" numOctaves="2" seed="5" result="t"/><feColorMatrix in="t" type="matrix" values="0 0 0 0 0.086  0 0 0 0 0.063  0 0 0 0 0.094  3 0 0 0 -1.303" result="c"/><feComposite in="c" in2="SourceAlpha" operator="in"/></filter>
<g transform="translate(361,0)">
<g filter="url(#rough)">
<g clip-path="url(#tsclip)"><rect x="30" y="440" width="115" height="115" fill="#6a5e80"/>
<ellipse cx="90" cy="466" rx="32" ry="17" fill="#5a5848" filter="url(#sb3)"/>
<ellipse cx="42" cy="492" rx="8" ry="18" fill="#a6c45c" filter="url(#sb2)"/>
<ellipse cx="44" cy="486" rx="4" ry="7" fill="#c0d878" filter="url(#sb1)"/>
<ellipse cx="64" cy="497" rx="13" ry="13" fill="#7a64b0" filter="url(#sb3)"/>
<ellipse cx="60" cy="517" rx="10" ry="8" fill="#b25a96" filter="url(#sb2)"/>
<ellipse cx="55" cy="461" rx="7" ry="4" fill="#4c4480" filter="url(#sb1)"/>
<ellipse cx="127" cy="494" rx="15" ry="12" fill="#4a4440" filter="url(#sb2)"/>
<ellipse cx="106" cy="500" rx="6" ry="5" fill="#5a62b2" filter="url(#sb2)"/>
<ellipse cx="96" cy="508" rx="9" ry="3.5" fill="#94c44c" filter="url(#sb1)"/>
<ellipse cx="97" cy="519" rx="11" ry="4.5" fill="#c44c4c" filter="url(#sb1)"/>
<ellipse cx="88" cy="532" rx="10" ry="7" fill="#cc5040" filter="url(#sb2)"/>
<ellipse cx="104" cy="544" rx="9" ry="6" fill="#e2de58" filter="url(#sb2)"/>
<ellipse cx="116" cy="532" rx="5" ry="4" fill="#90b070" filter="url(#sb1)"/>
<ellipse cx="132" cy="517" rx="8" ry="8" fill="#3a4a2a" filter="url(#sb1)"/>
<ellipse cx="70" cy="534" rx="4" ry="4" fill="#d890a0"/>
<use href="#ts" filter="url(#nz12)" opacity="0.3"/>
<use href="#ts" filter="url(#nz13)" opacity="0.3"/>
<use href="#ts" filter="url(#nz14)" opacity="0.3"/>
<use href="#ts" filter="url(#nz15)" opacity="0.3"/>
</g>
<path d="M89.0,509.5 L94.0,507.6 L99.0,509.0 L104.5,506.6 L108.6,507.8 L108.2,511.6 L103.0,511.0 L97.0,512.6 L92.0,513.6 L89.0,512.6 Z" fill="#fff"/><path d="M93.0,524.2 L99.0,523.6 L105.0,524.6 L109.5,525.6 L106.0,527.2 L100.0,526.4 L94.5,526.0 Z" fill="#fff"/><path d="M112.0,511.5 L115.5,510.8 L116.0,512.2 L112.5,512.8 Z" fill="#fff"/><polyline points="116.3,474.6 110.6,480.4 103.8,487.1 98,492.9 96.2,499.6 90.4,507.3 84.6,512.1 82,516.5" fill="none" stroke="#fff" stroke-width="0.7" stroke-dasharray="2 1.5" opacity="0.85"/>

</g>
</g>
<defs><mask id="mIfnTop" maskUnits="userSpaceOnUse" x="0" y="0" width="600" height="800"><rect x="0" y="0" width="600" height="800" fill="#000"/><path d="M30.0,440.0 L150.0,440.0 L150.0,560.0 L30.0,560.0 Z" fill="#fff"/><path d="M30.0,491.0 L96.0,498.0 L108.0,506.0 L112.0,524.0 L108.0,560.0 L30.0,560.0 Z" fill="#000" filter="url(#sb2)"/></mask></defs>
<defs><mask id="mIL4red" maskUnits="userSpaceOnUse" x="0" y="0" width="600" height="800"><rect x="0" y="0" width="600" height="800" fill="#000"/><path d="M44.0,482.0 L76.0,482.0 L76.0,526.0 L44.0,526.0 Z" fill="#fff" filter="url(#sb1)"/></mask></defs>
<defs><linearGradient id="gIfn" x1="60" y1="485" x2="63" y2="527" gradientUnits="userSpaceOnUse"><stop offset="0" stop-color="#4e5096"/><stop offset="0.12" stop-color="#3a3a70"/><stop offset="0.3" stop-color="#1e1820"/><stop offset="0.5" stop-color="#3a1c1e"/><stop offset="0.75" stop-color="#a04842"/><stop offset="1" stop-color="#c65850"/></linearGradient></defs>
<defs><linearGradient id="gIfnL" x1="78" y1="0" x2="124" y2="0" gradientUnits="userSpaceOnUse"><stop offset="0" stop-color="#c65850"/><stop offset="0.45" stop-color="#b44e48"/><stop offset="0.62" stop-color="#2a1a20"/><stop offset="0.78" stop-color="#1c1624"/><stop offset="1" stop-color="#4e5096"/></linearGradient></defs>
<filter id="nz16" x="-5%" y="-5%" width="110%" height="110%" color-interpolation-filters="sRGB"><feTurbulence type="fractalNoise" baseFrequency="0.09" numOctaves="2" seed="31" result="t"/><feColorMatrix in="t" type="matrix" values="0 0 0 0 0.086  0 0 0 0 0.063  0 0 0 0 0.094  3 0 0 0 -1.139" result="c"/><feComposite in="c" in2="SourceAlpha" operator="in"/></filter>
<filter id="nz17" x="-5%" y="-5%" width="110%" height="110%" color-interpolation-filters="sRGB"><feTurbulence type="fractalNoise" baseFrequency="0.45" numOctaves="2" seed="3" result="t"/><feColorMatrix in="t" type="matrix" values="0 0 0 0 0.086  0 0 0 0 0.063  0 0 0 0 0.094  3 0 0 0 -1.189" result="c"/><feComposite in="c" in2="SourceAlpha" operator="in"/></filter>
<filter id="nz18" x="-5%" y="-5%" width="110%" height="110%" color-interpolation-filters="sRGB"><feTurbulence type="fractalNoise" baseFrequency="0.8" numOctaves="2" seed="12" result="t"/><feColorMatrix in="t" type="matrix" values="0 0 0 0 0.086  0 0 0 0 0.063  0 0 0 0 0.094  3 0 0 0 -1.303" result="c"/><feComposite in="c" in2="SourceAlpha" operator="in"/></filter>
<g transform="translate(0,120.5)">
<g filter="url(#rough)">
<g clip-path="url(#tsclip)"><rect x="30" y="440" width="115" height="115" fill="#4e5096"/>
<path d="M30.0,480.0 L92.0,488.0 L100.0,496.0 L96.0,510.0 L80.0,520.0 L66.0,530.0 L30.0,530.0 Z" fill="url(#gIfn)" filter="url(#sb1)"/>
<path d="M80.0,510.0 L104.0,510.0 L106.0,526.0 L80.0,526.0 Z" fill="#c25650" filter="url(#sb05)"/>
<ellipse cx="111" cy="518" rx="5" ry="6" fill="#1e1822" filter="url(#sb1)"/>
<path d="M76.0,526.0 L126.0,526.0 L126.0,555.0 L76.0,555.0 Z" fill="url(#gIfnL)"/>
<path d="M64.0,528.0 L76.0,528.0 L76.0,540.0 L64.0,540.0 Z" fill="#c65850"/>
<use href="#ts" filter="url(#nz16)" opacity="0.6" mask="url(#mIfnTop)"/>
<use href="#ts" filter="url(#nz17)" opacity="0.55" mask="url(#mIfnTop)"/>
<use href="#ts" filter="url(#nz18)" opacity="0.25"/>
</g>
<path d="M89.0,509.5 L94.0,507.6 L99.0,509.0 L104.5,506.6 L108.6,507.8 L108.2,511.6 L103.0,511.0 L97.0,512.6 L92.0,513.6 L89.0,512.6 Z" fill="#fff"/><path d="M93.0,524.2 L99.0,523.6 L105.0,524.6 L109.5,525.6 L106.0,527.2 L100.0,526.4 L94.5,526.0 Z" fill="#fff"/><path d="M112.0,511.5 L115.5,510.8 L116.0,512.2 L112.5,512.8 Z" fill="#fff"/><polyline points="116.3,474.6 110.6,480.4 103.8,487.1 98,492.9 96.2,499.6 90.4,507.3 84.6,512.1 82,516.5" fill="none" stroke="#fff" stroke-width="0.7" stroke-dasharray="2 1.5" opacity="0.85"/>

</g>
</g>
<filter id="nz19" x="-5%" y="-5%" width="110%" height="110%" color-interpolation-filters="sRGB"><feTurbulence type="fractalNoise" baseFrequency="0.09" numOctaves="2" seed="31" result="t"/><feColorMatrix in="t" type="matrix" values="0 0 0 0 0.086  0 0 0 0 0.063  0 0 0 0 0.094  3 0 0 0 -1.139" result="c"/><feComposite in="c" in2="SourceAlpha" operator="in"/></filter>
<filter id="nz20" x="-5%" y="-5%" width="110%" height="110%" color-interpolation-filters="sRGB"><feTurbulence type="fractalNoise" baseFrequency="0.45" numOctaves="2" seed="3" result="t"/><feColorMatrix in="t" type="matrix" values="0 0 0 0 0.086  0 0 0 0 0.063  0 0 0 0 0.094  3 0 0 0 -1.189" result="c"/><feComposite in="c" in2="SourceAlpha" operator="in"/></filter>
<filter id="nz21" x="-5%" y="-5%" width="110%" height="110%" color-interpolation-filters="sRGB"><feTurbulence type="fractalNoise" baseFrequency="0.7" numOctaves="2" seed="13" result="t"/><feColorMatrix in="t" type="matrix" values="0 0 0 0 0.086  0 0 0 0 0.063  0 0 0 0 0.094  3 0 0 0 -1.303" result="c"/><feComposite in="c" in2="SourceAlpha" operator="in"/></filter>
<g transform="translate(120,120.5)">
<g filter="url(#rough)">
<g clip-path="url(#tsclip)"><rect x="30" y="440" width="115" height="115" fill="#4e5096"/>
<use href="#ts" filter="url(#nz19)" opacity="0.7" mask="url(#mLeft)"/>
<use href="#ts" filter="url(#nz20)" opacity="0.6" mask="url(#mLeft)"/>
<path d="M30.0,474.0 L40.0,474.0 L47.0,486.0 L48.0,500.0 L44.0,512.0 L30.0,512.0 Z" fill="#c65850" filter="url(#sb1)"/>
<ellipse cx="51" cy="493" rx="4.5" ry="13" fill="#1c141c" filter="url(#sb2)"/>
<ellipse cx="100" cy="536" rx="14" ry="4" fill="#1a121a" filter="url(#sb2)"/>
<path d="M86.0,542.0 L112.0,539.0 L114.0,555.0 L86.0,555.0 Z" fill="#c65850" filter="url(#sb1)"/>
<use href="#ts" filter="url(#nz21)" opacity="0.25"/>
</g>
<path d="M89.0,509.5 L94.0,507.6 L99.0,509.0 L104.5,506.6 L108.6,507.8 L108.2,511.6 L103.0,511.0 L97.0,512.6 L92.0,513.6 L89.0,512.6 Z" fill="#fff"/><path d="M93.0,524.2 L99.0,523.6 L105.0,524.6 L109.5,525.6 L106.0,527.2 L100.0,526.4 L94.5,526.0 Z" fill="#fff"/><path d="M112.0,511.5 L115.5,510.8 L116.0,512.2 L112.5,512.8 Z" fill="#fff"/><polyline points="116.3,474.6 110.6,480.4 103.8,487.1 98,492.9 96.2,499.6 90.4,507.3 84.6,512.1 82,516.5" fill="none" stroke="#fff" stroke-width="0.7" stroke-dasharray="2 1.5" opacity="0.85"/>
<path d="M89.0,507.0 L95.0,505.5 L102.0,506.0 L104.0,509.0 L101.0,512.5 L95.0,514.0 L90.0,512.5 Z" fill="#c65850"/>
</g>
</g>
<filter id="nz22" x="-5%" y="-5%" width="110%" height="110%" color-interpolation-filters="sRGB"><feTurbulence type="fractalNoise" baseFrequency="0.09" numOctaves="2" seed="31" result="t"/><feColorMatrix in="t" type="matrix" values="0 0 0 0 0.086  0 0 0 0 0.063  0 0 0 0 0.094  3 0 0 0 -1.139" result="c"/><feComposite in="c" in2="SourceAlpha" operator="in"/></filter>
<filter id="nz23" x="-5%" y="-5%" width="110%" height="110%" color-interpolation-filters="sRGB"><feTurbulence type="fractalNoise" baseFrequency="0.45" numOctaves="2" seed="3" result="t"/><feColorMatrix in="t" type="matrix" values="0 0 0 0 0.086  0 0 0 0 0.063  0 0 0 0 0.094  3 0 0 0 -1.168" result="c"/><feComposite in="c" in2="SourceAlpha" operator="in"/></filter>
<filter id="nz24" x="-5%" y="-5%" width="110%" height="110%" color-interpolation-filters="sRGB"><feTurbulence type="fractalNoise" baseFrequency="0.4" numOctaves="2" seed="7" result="t"/><feColorMatrix in="t" type="matrix" values="0 0 0 0 0.086  0 0 0 0 0.063  0 0 0 0 0.094  4 0 0 0 -1.752" result="c"/><feComposite in="c" in2="SourceAlpha" operator="in"/></filter>
<filter id="nz25" x="-5%" y="-5%" width="110%" height="110%" color-interpolation-filters="sRGB"><feTurbulence type="fractalNoise" baseFrequency="0.7" numOctaves="2" seed="13" result="t"/><feColorMatrix in="t" type="matrix" values="0 0 0 0 0.086  0 0 0 0 0.063  0 0 0 0 0.094  3 0 0 0 -1.303" result="c"/><feComposite in="c" in2="SourceAlpha" operator="in"/></filter>
<g transform="translate(240,120.5)">
<g filter="url(#rough)">
<g clip-path="url(#tsclip)"><rect x="30" y="440" width="115" height="115" fill="#4e5096"/>
<use href="#ts" filter="url(#nz22)" opacity="0.75" mask="url(#mLeft)"/>
<ellipse cx="66" cy="482" rx="20" ry="9" fill="#1e1624" filter="url(#sb3)"/>
<use href="#ts" filter="url(#nz23)" opacity="0.65" mask="url(#mLeft)"/>
<path d="M46.0,492.0 L52.0,489.0 L58.0,488.0 L64.0,485.0 L72.0,487.0 L71.0,496.0 L67.0,503.0 L63.0,511.0 L62.0,521.0 L56.0,523.0 L51.0,518.0 L47.0,510.0 L43.0,500.0 Z" fill="#c65850" filter="url(#sb05)"/>
<use href="#ts" filter="url(#nz24)" opacity="0.75" mask="url(#mIL4red)"/>
<ellipse cx="101" cy="499.5" rx="4" ry="3.8" fill="#c65850" filter="url(#sb05)"/>
<ellipse cx="48.5" cy="461" rx="1.2" ry="1.2" fill="#c65850"/>
<ellipse cx="51" cy="468" rx="1" ry="1" fill="#c65850"/>
<use href="#ts" filter="url(#nz25)" opacity="0.25"/>
</g>
<path d="M89.0,509.5 L94.0,507.6 L99.0,509.0 L104.5,506.6 L108.6,507.8 L108.2,511.6 L103.0,511.0 L97.0,512.6 L92.0,513.6 L89.0,512.6 Z" fill="#fff"/><path d="M93.0,524.2 L99.0,523.6 L105.0,524.6 L109.5,525.6 L106.0,527.2 L100.0,526.4 L94.5,526.0 Z" fill="#fff"/><path d="M112.0,511.5 L115.5,510.8 L116.0,512.2 L112.5,512.8 Z" fill="#fff"/><polyline points="116.3,474.6 110.6,480.4 103.8,487.1 98,492.9 96.2,499.6 90.4,507.3 84.6,512.1 82,516.5" fill="none" stroke="#fff" stroke-width="0.7" stroke-dasharray="2 1.5" opacity="0.85"/>

</g>
</g>
<defs><mask id="mIL10red" maskUnits="userSpaceOnUse" x="0" y="0" width="600" height="800"><rect x="0" y="0" width="600" height="800" fill="#000"/><path d="M32.0,474.0 L80.0,474.0 L80.0,528.0 L32.0,528.0 Z" fill="#fff" filter="url(#sb2)"/></mask></defs>
<filter id="nz26" x="-5%" y="-5%" width="110%" height="110%" color-interpolation-filters="sRGB"><feTurbulence type="fractalNoise" baseFrequency="0.09" numOctaves="2" seed="31" result="t"/><feColorMatrix in="t" type="matrix" values="0 0 0 0 0.086  0 0 0 0 0.063  0 0 0 0 0.094  3 0 0 0 -1.091" result="c"/><feComposite in="c" in2="SourceAlpha" operator="in"/></filter>
<filter id="nz27" x="-5%" y="-5%" width="110%" height="110%" color-interpolation-filters="sRGB"><feTurbulence type="fractalNoise" baseFrequency="0.45" numOctaves="2" seed="3" result="t"/><feColorMatrix in="t" type="matrix" values="0 0 0 0 0.086  0 0 0 0 0.063  0 0 0 0 0.094  3 0 0 0 -1.168" result="c"/><feComposite in="c" in2="SourceAlpha" operator="in"/></filter>
<filter id="nz28" x="-5%" y="-5%" width="110%" height="110%" color-interpolation-filters="sRGB"><feTurbulence type="fractalNoise" baseFrequency="0.7" numOctaves="2" seed="13" result="t"/><feColorMatrix in="t" type="matrix" values="0 0 0 0 0.086  0 0 0 0 0.063  0 0 0 0 0.094  3 0 0 0 -1.303" result="c"/><feComposite in="c" in2="SourceAlpha" operator="in"/></filter>
<g transform="translate(361,120.5)">
<g filter="url(#rough)">
<g clip-path="url(#tsclip)"><rect x="30" y="440" width="115" height="115" fill="#4e5096"/>
<use href="#ts" filter="url(#nz26)" opacity="0.8" mask="url(#mLeft)"/>
<ellipse cx="58" cy="496" rx="18" ry="20" fill="#22182a" filter="url(#sb3)" opacity="0.6"/>
<use href="#ts" filter="url(#nz27)" opacity="0.65" mask="url(#mLeft)"/>
<g fill="#c85a50"><circle cx="59.2" cy="486.8" r="0.77"/><circle cx="58.6" cy="491.7" r="0.93"/><circle cx="40.6" cy="491.1" r="0.70"/><circle cx="46.4" cy="486.7" r="1.20"/><circle cx="85.6" cy="502.3" r="0.72"/><circle cx="61.5" cy="483.8" r="1.18"/><circle cx="60.3" cy="506.6" r="0.66"/><circle cx="58.7" cy="482.4" r="0.74"/><circle cx="57.8" cy="501.6" r="0.74"/><circle cx="44.0" cy="492.3" r="1.09"/><circle cx="76.4" cy="507.6" r="1.29"/><circle cx="54.7" cy="477.3" r="1.19"/><circle cx="67.0" cy="504.5" r="0.66"/><circle cx="58.9" cy="482.4" r="0.67"/><circle cx="36.5" cy="504.1" r="0.99"/><circle cx="76.4" cy="516.5" r="0.64"/><circle cx="73.9" cy="470.0" r="1.13"/><circle cx="69.9" cy="492.1" r="0.75"/><circle cx="36.7" cy="500.4" r="1.14"/><circle cx="34.2" cy="516.3" r="0.62"/><circle cx="52.6" cy="497.1" r="0.85"/><circle cx="62.0" cy="496.6" r="1.29"/><circle cx="71.2" cy="486.7" r="0.64"/><circle cx="37.9" cy="500.3" r="0.67"/><circle cx="54.4" cy="502.0" r="1.19"/><circle cx="79.5" cy="483.2" r="1.13"/><circle cx="52.2" cy="495.0" r="0.94"/><circle cx="57.3" cy="476.9" r="0.62"/><circle cx="61.1" cy="497.3" r="1.25"/><circle cx="65.0" cy="504.8" r="0.93"/><circle cx="60.8" cy="492.7" r="0.78"/><circle cx="56.7" cy="492.0" r="0.71"/><circle cx="85.9" cy="501.7" r="0.76"/><circle cx="44.3" cy="496.9" r="1.29"/><circle cx="52.2" cy="481.2" r="0.94"/><circle cx="53.4" cy="519.8" r="0.67"/><circle cx="48.8" cy="490.0" r="0.79"/><circle cx="48.6" cy="499.2" r="1.01"/><circle cx="58.1" cy="498.0" r="0.70"/><circle cx="76.8" cy="510.2" r="0.96"/><circle cx="47.0" cy="478.2" r="0.72"/><circle cx="67.3" cy="493.4" r="0.92"/><circle cx="37.6" cy="498.4" r="1.14"/><circle cx="63.8" cy="518.1" r="0.90"/><circle cx="55.8" cy="521.0" r="1.21"/><circle cx="62.7" cy="488.7" r="1.24"/><circle cx="61.1" cy="465.6" r="1.13"/><circle cx="69.7" cy="497.0" r="1.12"/><circle cx="58.8" cy="482.6" r="0.95"/><circle cx="36.4" cy="511.2" r="0.86"/><circle cx="55.7" cy="481.6" r="1.09"/><circle cx="54.2" cy="501.5" r="1.07"/><circle cx="62.9" cy="506.0" r="1.15"/><circle cx="81.2" cy="505.0" r="1.01"/><circle cx="39.3" cy="490.2" r="0.64"/><circle cx="75.0" cy="499.7" r="1.01"/><circle cx="41.7" cy="479.8" r="0.79"/><circle cx="72.8" cy="523.8" r="0.64"/><circle cx="39.3" cy="495.4" r="1.27"/><circle cx="72.0" cy="506.7" r="0.66"/><circle cx="40.0" cy="501.8" r="1.19"/><circle cx="75.1" cy="502.8" r="0.70"/><circle cx="28.1" cy="516.1" r="1.20"/><circle cx="57.0" cy="497.5" r="0.62"/><circle cx="56.6" cy="493.7" r="1.15"/><circle cx="63.8" cy="476.3" r="1.26"/><circle cx="41.0" cy="480.4" r="0.98"/><circle cx="53.8" cy="493.0" r="0.99"/><circle cx="67.9" cy="496.3" r="1.10"/><circle cx="62.0" cy="509.4" r="0.98"/><circle cx="57.3" cy="486.5" r="0.93"/><circle cx="61.8" cy="511.6" r="1.26"/><circle cx="42.7" cy="508.5" r="0.99"/><circle cx="62.2" cy="514.5" r="0.75"/><circle cx="27.0" cy="471.8" r="0.81"/><circle cx="50.7" cy="487.5" r="1.05"/><circle cx="61.1" cy="510.2" r="1.15"/><circle cx="58.6" cy="507.9" r="0.76"/><circle cx="65.8" cy="512.0" r="1.18"/><circle cx="43.1" cy="494.8" r="0.81"/><circle cx="57.9" cy="525.6" r="0.94"/><circle cx="52.0" cy="488.2" r="0.72"/><circle cx="66.0" cy="497.6" r="0.89"/><circle cx="39.5" cy="494.8" r="1.08"/><circle cx="71.4" cy="481.9" r="1.08"/><circle cx="61.1" cy="482.9" r="0.93"/><circle cx="77.9" cy="484.1" r="0.87"/><circle cx="64.5" cy="487.6" r="1.13"/><circle cx="71.9" cy="499.4" r="1.26"/><circle cx="33.5" cy="506.1" r="1.08"/><circle cx="60.7" cy="497.6" r="0.83"/><circle cx="73.3" cy="493.9" r="1.02"/><circle cx="63.1" cy="488.4" r="0.70"/><circle cx="31.3" cy="505.8" r="0.72"/><circle cx="46.0" cy="497.5" r="0.85"/><circle cx="77.9" cy="511.4" r="0.78"/><circle cx="57.8" cy="489.8" r="0.90"/><circle cx="71.8" cy="499.4" r="0.96"/><circle cx="48.7" cy="500.3" r="1.05"/><circle cx="83.2" cy="503.2" r="0.94"/><circle cx="46.3" cy="488.9" r="0.62"/><circle cx="75.0" cy="500.6" r="0.94"/><circle cx="53.4" cy="511.7" r="1.21"/><circle cx="41.5" cy="496.1" r="1.01"/><circle cx="58.1" cy="494.8" r="1.06"/><circle cx="39.1" cy="488.2" r="0.72"/><circle cx="66.1" cy="478.2" r="0.79"/><circle cx="59.7" cy="495.7" r="0.98"/><circle cx="62.6" cy="501.0" r="1.05"/><circle cx="52.2" cy="483.8" r="0.77"/></g>
<path d="M123.0,507.0 L143.0,507.0 L143.0,528.0 L123.0,528.0 Z" fill="#c65850"/>
<ellipse cx="131" cy="517" rx="2" ry="5" fill="#1a1418" filter="url(#sb05)"/>
<use href="#ts" filter="url(#nz28)" opacity="0.25"/>
<ellipse cx="119" cy="528" rx="3" ry="2.5" fill="#c65850"/>
<ellipse cx="92" cy="537" rx="1.2" ry="1.2" fill="#c65850"/>
<ellipse cx="80" cy="532" rx="1.2" ry="1.2" fill="#c65850"/>
</g>
<path d="M89.0,509.5 L94.0,507.6 L99.0,509.0 L104.5,506.6 L108.6,507.8 L108.2,511.6 L103.0,511.0 L97.0,512.6 L92.0,513.6 L89.0,512.6 Z" fill="#fff"/><path d="M93.0,524.2 L99.0,523.6 L105.0,524.6 L109.5,525.6 L106.0,527.2 L100.0,526.4 L94.5,526.0 Z" fill="#fff"/><path d="M112.0,511.5 L115.5,510.8 L116.0,512.2 L112.5,512.8 Z" fill="#fff"/><polyline points="116.3,474.6 110.6,480.4 103.8,487.1 98,492.9 96.2,499.6 90.4,507.3 84.6,512.1 82,516.5" fill="none" stroke="#fff" stroke-width="0.7" stroke-dasharray="2 1.5" opacity="0.85"/>

</g>
</g>
<path d="M44.0,453.0 L104.3,442.2 L125.5,470.0 L85.6,515.5 L69.4,528.0 L52.5,529.0 L30.4,492.6 Z" fill="none" stroke="#3a3a3a" stroke-width="0.7" stroke-linejoin="miter"/>
<path d="M240.0,473.1 L255.7,470.3 L265.2,491.5 L263.6,523.0 L251.5,529.9 L244.7,526.2 L236.3,523.0 L209.4,524.8 L200.8,521.9 L204.6,512.3 L232.1,480.5 Z" fill="none" stroke="#3a3a3a" stroke-width="0.7" stroke-linejoin="miter"/>
<path d="M306.9,528.0 L361.4,522.3 L367.5,529.7 L346.7,554.4 L315.6,547.0 L304.3,534.0 Z" fill="none" stroke="#3a3a3a" stroke-width="0.7" stroke-linejoin="miter"/>
<text x="38.00" y="447.70" font-size="7.6" fill="#2a2a2a" textLength="12.2" lengthAdjust="spacingAndGlyphs">TCR</text>
<text x="73.00" y="442.70" font-size="7.6" fill="#2a2a2a" textLength="19.2" lengthAdjust="spacingAndGlyphs">tumor</text>
<text x="156.90" y="447.70" font-size="7.6" fill="#2a2a2a" textLength="14.2" lengthAdjust="spacingAndGlyphs">CD4</text>
<text x="278.10" y="447.70" font-size="7.6" fill="#2a2a2a" textLength="12.9" lengthAdjust="spacingAndGlyphs">CD8</text>
<text x="408.10" y="447.60" font-size="7.6" fill="#2a2a2a" textLength="29.8" lengthAdjust="spacingAndGlyphs">Multiplex</text>
<text x="246.70" y="463.70" font-size="7.6" fill="#2a2a2a" textLength="23.9" lengthAdjust="spacingAndGlyphs">CD4 TIL</text>
<text x="362.60" y="548.20" font-size="7.6" fill="#2a2a2a" textLength="23.4" lengthAdjust="spacingAndGlyphs">CD8 TIL</text>
<text x="51.00" y="567.90" font-size="7.6" fill="#2a2a2a" textLength="38.1" lengthAdjust="spacingAndGlyphs">IFN-gamma</text>
<text x="160.80" y="567.80" font-size="7.6" fill="#2a2a2a" textLength="18.4" lengthAdjust="spacingAndGlyphs">IL17A</text>
<text x="275.50" y="567.80" font-size="7.6" fill="#2a2a2a" textLength="9.8" lengthAdjust="spacingAndGlyphs">IL4</text>
<text x="398.10" y="567.80" font-size="7.6" fill="#2a2a2a" textLength="13.9" lengthAdjust="spacingAndGlyphs">IL10</text>
<text x="34.40" y="679.30" font-size="7.6" fill="#2a2a2a" textLength="37.7" lengthAdjust="spacingAndGlyphs">Th1 CD4 TIL</text>
<text x="131.10" y="692.30" font-size="7.6" fill="#2a2a2a" textLength="37.6" lengthAdjust="spacingAndGlyphs">IFN-gamma</text>
<text x="131.10" y="701.00" font-size="7.6" fill="#2a2a2a" textLength="24.2" lengthAdjust="spacingAndGlyphs">CD8 TIL</text>
<text x="146.50" y="672.80" font-size="7.6" fill="#2a2a2a" textLength="41.8" lengthAdjust="spacingAndGlyphs">Th17 CD4 TIL</text>
<text x="222.40" y="704.50" font-size="7.6" fill="#2a2a2a" textLength="67.8" lengthAdjust="spacingAndGlyphs">IL17a producing CD8</text>
<text x="349.10" y="686.30" font-size="7.6" fill="#2a2a2a" textLength="37.6" lengthAdjust="spacingAndGlyphs">Th2 CD4 TIL</text>
<text x="465.40" y="693.80" font-size="7.6" fill="#2a2a2a" textLength="41.5" lengthAdjust="spacingAndGlyphs">TReg CD4 TIL</text>
<line x1="54.60" y1="664.20" x2="82.57" y2="646.96" stroke="#2a2a2a" stroke-width="0.6"/>
<path d="M86.40,644.60 L83.19,648.93 L82.82,646.80 L81.09,645.52 Z" fill="#111"/>
<line x1="130.00" y1="691.20" x2="108.74" y2="674.57" stroke="#2a2a2a" stroke-width="0.6"/>
<path d="M105.20,671.80 L110.37,673.31 L108.51,674.39 L107.91,676.46 Z" fill="#111"/>
<line x1="166.10" y1="663.70" x2="205.37" y2="637.31" stroke="#2a2a2a" stroke-width="0.6"/>
<path d="M209.10,634.80 L206.07,639.25 L205.61,637.14 L203.83,635.93 Z" fill="#111"/>
<line x1="242.00" y1="696.80" x2="226.55" y2="674.31" stroke="#2a2a2a" stroke-width="0.6"/>
<path d="M224.00,670.60 L228.48,673.59 L226.38,674.06 L225.18,675.85 Z" fill="#111"/>
<line x1="357.40" y1="674.90" x2="344.39" y2="627.54" stroke="#2a2a2a" stroke-width="0.6"/>
<path d="M343.20,623.20 L346.45,627.49 L344.31,627.25 L342.60,628.55 Z" fill="#111"/>
<line x1="485.90" y1="683.40" x2="490.22" y2="650.46" stroke="#2a2a2a" stroke-width="0.6"/>
<path d="M490.80,646.00 L492.13,651.22 L490.25,650.16 L488.17,650.70 Z" fill="#111"/>
</svg>
</body></html>
